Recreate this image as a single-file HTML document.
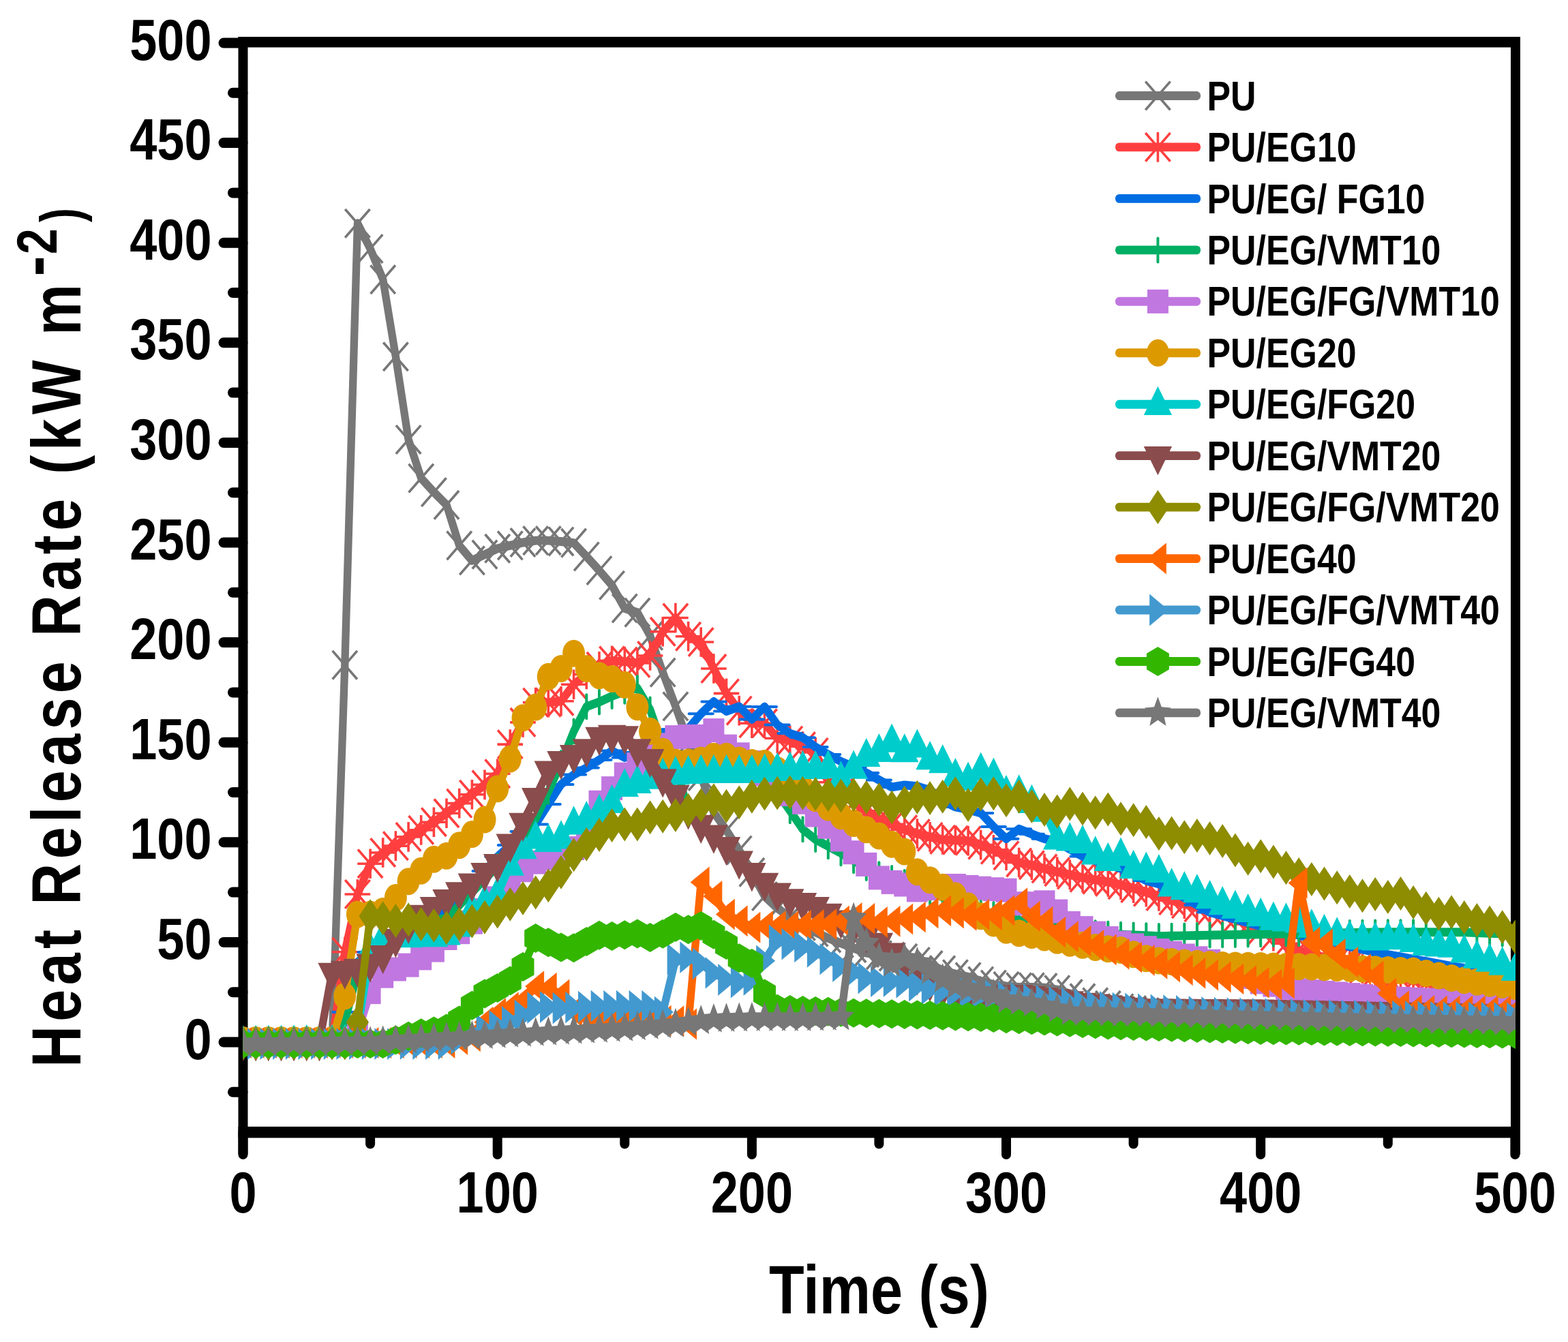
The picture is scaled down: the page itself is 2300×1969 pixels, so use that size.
<!DOCTYPE html>
<html><head><meta charset="utf-8"><title>Heat Release Rate</title>
<style>
html,body{margin:0;padding:0;background:#fff;}
svg{display:block;}
.t{font-family:"Liberation Sans",Arial,sans-serif;font-weight:bold;fill:#000;}
</style></head>
<body>
<svg xmlns="http://www.w3.org/2000/svg" width="2300" height="1969" viewBox="0 0 2300 1969">
<rect width="2300" height="1969" fill="#fff"/>
<defs><g id="mPU" stroke="#777777" stroke-width="3.6" stroke-linecap="square" fill="none"><path d="M-17,-19.5L17,19.5M-17,19.5L17,-19.5"/></g>
<g id="mEG10" stroke="#FF3F3F" stroke-width="3.6" stroke-linecap="square" fill="none"><path d="M-17,-19.5L17,19.5M-17,19.5L17,-19.5M0,-20L0,20M-17,0L17,0"/></g>
<g id="mFG10" stroke="#006DE2" stroke-width="4" stroke-linecap="round" fill="none"><path d="M-17.5,0L17.5,0"/></g>
<g id="mVMT10" stroke="#00AE64" stroke-width="4" stroke-linecap="round" fill="none"><path d="M0,-17.5L0,17.5"/></g>
<rect id="mFGVMT10" x="-15.5" y="-17.5" width="31" height="35" fill="#C077E0"/>
<ellipse id="mEG20" rx="16.5" ry="20" fill="#DD9A00"/>
<polygon id="mFG20" points="0,-26.5 20.7,15.7 -20.7,15.7" fill="#00CCCC"/>
<polygon id="mVMT20" points="-20.7,-13.7 20.7,-13.7 0,28.6" fill="#8A4C4C"/>
<polygon id="mFGVMT20" points="0,-25 16.6,0 0,25 -16.6,0" fill="#8E8C00"/>
<polygon id="mEG40" points="-15.6,0 12.4,-23 12.4,23" fill="#FF6600"/>
<polygon id="mFGVMT40" points="15.6,0 -12.3,-23.4 -12.3,23.4" fill="#4299CF"/>
<polygon id="mFG40" points="0,-21.5 16.5,-11.8 16.5,11.8 0,21.5 -16.5,11.8 -16.5,-11.8" fill="#33B600"/>
<polygon id="mVMT40" points="0.00,-23.70 5.42,-8.63 19.50,-7.32 8.77,3.30 12.05,19.17 0.00,10.66 -12.05,19.17 -8.77,3.30 -19.50,-7.32 -5.42,-8.63" fill="#777777"/><clipPath id="pc"><rect x="356.5" y="62" width="1866.5" height="1599"/></clipPath></defs>
<line x1="328" y1="1529.0" x2="356" y2="1529.0" stroke="#000" stroke-width="15" stroke-linecap="round"/>
<line x1="328" y1="1382.4" x2="356" y2="1382.4" stroke="#000" stroke-width="15" stroke-linecap="round"/>
<line x1="328" y1="1235.8" x2="356" y2="1235.8" stroke="#000" stroke-width="15" stroke-linecap="round"/>
<line x1="328" y1="1089.2" x2="356" y2="1089.2" stroke="#000" stroke-width="15" stroke-linecap="round"/>
<line x1="328" y1="942.6" x2="356" y2="942.6" stroke="#000" stroke-width="15" stroke-linecap="round"/>
<line x1="328" y1="796.0" x2="356" y2="796.0" stroke="#000" stroke-width="15" stroke-linecap="round"/>
<line x1="328" y1="649.4" x2="356" y2="649.4" stroke="#000" stroke-width="15" stroke-linecap="round"/>
<line x1="328" y1="502.8" x2="356" y2="502.8" stroke="#000" stroke-width="15" stroke-linecap="round"/>
<line x1="328" y1="356.2" x2="356" y2="356.2" stroke="#000" stroke-width="15" stroke-linecap="round"/>
<line x1="328" y1="209.6" x2="356" y2="209.6" stroke="#000" stroke-width="15" stroke-linecap="round"/>
<line x1="328" y1="63.0" x2="356" y2="63.0" stroke="#000" stroke-width="15" stroke-linecap="round"/>
<line x1="341.5" y1="1602.3" x2="356" y2="1602.3" stroke="#000" stroke-width="15" stroke-linecap="round"/>
<line x1="341.5" y1="1455.7" x2="356" y2="1455.7" stroke="#000" stroke-width="15" stroke-linecap="round"/>
<line x1="341.5" y1="1309.1" x2="356" y2="1309.1" stroke="#000" stroke-width="15" stroke-linecap="round"/>
<line x1="341.5" y1="1162.5" x2="356" y2="1162.5" stroke="#000" stroke-width="15" stroke-linecap="round"/>
<line x1="341.5" y1="1015.9" x2="356" y2="1015.9" stroke="#000" stroke-width="15" stroke-linecap="round"/>
<line x1="341.5" y1="869.3" x2="356" y2="869.3" stroke="#000" stroke-width="15" stroke-linecap="round"/>
<line x1="341.5" y1="722.7" x2="356" y2="722.7" stroke="#000" stroke-width="15" stroke-linecap="round"/>
<line x1="341.5" y1="576.1" x2="356" y2="576.1" stroke="#000" stroke-width="15" stroke-linecap="round"/>
<line x1="341.5" y1="429.5" x2="356" y2="429.5" stroke="#000" stroke-width="15" stroke-linecap="round"/>
<line x1="341.5" y1="282.9" x2="356" y2="282.9" stroke="#000" stroke-width="15" stroke-linecap="round"/>
<line x1="341.5" y1="136.3" x2="356" y2="136.3" stroke="#000" stroke-width="15" stroke-linecap="round"/>
<line x1="356.5" y1="1661" x2="356.5" y2="1694" stroke="#000" stroke-width="14" stroke-linecap="round"/>
<line x1="729.7" y1="1661" x2="729.7" y2="1694" stroke="#000" stroke-width="14" stroke-linecap="round"/>
<line x1="1102.9" y1="1661" x2="1102.9" y2="1694" stroke="#000" stroke-width="14" stroke-linecap="round"/>
<line x1="1476.0" y1="1661" x2="1476.0" y2="1694" stroke="#000" stroke-width="14" stroke-linecap="round"/>
<line x1="1849.2" y1="1661" x2="1849.2" y2="1694" stroke="#000" stroke-width="14" stroke-linecap="round"/>
<line x1="2222.4" y1="1661" x2="2222.4" y2="1694" stroke="#000" stroke-width="14" stroke-linecap="round"/>
<line x1="543.1" y1="1661" x2="543.1" y2="1678.5" stroke="#000" stroke-width="14" stroke-linecap="round"/>
<line x1="916.3" y1="1661" x2="916.3" y2="1678.5" stroke="#000" stroke-width="14" stroke-linecap="round"/>
<line x1="1289.4" y1="1661" x2="1289.4" y2="1678.5" stroke="#000" stroke-width="14" stroke-linecap="round"/>
<line x1="1662.6" y1="1661" x2="1662.6" y2="1678.5" stroke="#000" stroke-width="14" stroke-linecap="round"/>
<line x1="2035.8" y1="1661" x2="2035.8" y2="1678.5" stroke="#000" stroke-width="14" stroke-linecap="round"/>
<rect x="349.5" y="54" width="1880.5" height="15.5" fill="#000"/>
<rect x="349.5" y="1653" width="1880.5" height="16.5" fill="#000"/>
<rect x="349.5" y="54" width="14" height="1640" fill="#000"/>
<rect x="2216" y="54" width="14" height="1640" fill="#000"/>
<g clip-path="url(#pc)">
<polyline transform="scale(0.876,1)" points="407.0,1529.0 428.3,1529.0 449.6,1529.0 470.9,1529.0 492.2,1529.0 513.5,1529.0 534.8,1529.0 556.1,1529.0 577.4,975.7 598.7,327.8 620.0,365.0 641.3,410.1 662.6,523.3 683.9,645.0 705.2,701.6 726.5,722.1 747.8,740.9 769.1,800.4 790.4,822.4 811.7,813.6 833.0,804.8 854.3,800.4 875.6,796.0 896.9,793.1 918.2,793.1 939.5,794.5 960.8,796.6 982.1,816.5 1003.4,837.0 1024.7,858.7 1046.0,892.5 1067.3,898.6 1088.6,932.8 1109.9,986.6 1131.2,1036.4 1152.5,1089.2 1173.8,1139.0 1195.1,1191.8 1216.4,1218.2 1237.7,1247.5 1259.0,1279.8 1280.3,1315.0 1301.6,1332.6 1322.9,1345.8 1344.2,1358.9 1365.5,1367.7 1386.8,1376.5 1408.1,1383.9 1429.4,1391.2 1450.7,1398.0 1472.0,1401.2 1493.3,1403.6 1514.6,1405.9 1535.9,1411.0 1557.2,1416.1 1578.5,1423.4 1599.8,1429.2 1621.1,1433.4 1642.4,1439.5 1663.7,1444.6 1685.0,1446.9 1706.3,1448.4 1727.6,1448.4 1748.9,1449.1 1770.2,1452.2 1791.5,1458.1 1812.8,1464.3 1834.1,1470.4 1855.4,1474.8 1876.7,1479.2 1898.0,1482.1 1919.3,1485.0 1940.6,1488.0 1961.9,1490.2 1983.2,1492.3 2004.5,1494.5 2025.8,1496.7 2047.1,1497.5 2068.4,1498.2 2089.7,1498.9 2111.0,1499.7 2132.3,1500.0 2153.6,1500.3 2174.9,1500.6 2196.2,1500.9 2217.5,1501.1 2238.8,1501.4 2260.1,1501.7 2281.4,1502.0 2302.7,1502.3 2324.0,1502.6 2345.3,1502.9 2366.6,1503.2 2387.9,1503.5 2409.2,1503.8 2430.5,1504.1 2451.8,1504.4 2473.1,1504.7 2494.4,1505.0 2515.7,1505.3 2537.0,1505.5" fill="none" stroke="#777777" stroke-width="12.9" stroke-linejoin="round" stroke-linecap="round"/>
<use href="#mPU" x="356.5" y="1529.0"/>
<use href="#mPU" x="375.2" y="1529.0"/>
<use href="#mPU" x="393.8" y="1529.0"/>
<use href="#mPU" x="412.5" y="1529.0"/>
<use href="#mPU" x="431.1" y="1529.0"/>
<use href="#mPU" x="449.8" y="1529.0"/>
<use href="#mPU" x="468.5" y="1529.0"/>
<use href="#mPU" x="487.1" y="1529.0"/>
<use href="#mPU" x="505.8" y="975.7"/>
<use href="#mPU" x="524.4" y="327.8"/>
<use href="#mPU" x="543.1" y="365.0"/>
<use href="#mPU" x="561.7" y="410.1"/>
<use href="#mPU" x="580.4" y="523.3"/>
<use href="#mPU" x="599.1" y="645.0"/>
<use href="#mPU" x="617.7" y="701.6"/>
<use href="#mPU" x="636.4" y="722.1"/>
<use href="#mPU" x="655.0" y="740.9"/>
<use href="#mPU" x="673.7" y="800.4"/>
<use href="#mPU" x="692.4" y="822.4"/>
<use href="#mPU" x="711.0" y="813.6"/>
<use href="#mPU" x="729.7" y="804.8"/>
<use href="#mPU" x="748.3" y="800.4"/>
<use href="#mPU" x="767.0" y="796.0"/>
<use href="#mPU" x="785.7" y="793.1"/>
<use href="#mPU" x="804.3" y="793.1"/>
<use href="#mPU" x="823.0" y="794.5"/>
<use href="#mPU" x="841.6" y="796.6"/>
<use href="#mPU" x="860.3" y="816.5"/>
<use href="#mPU" x="879.0" y="837.0"/>
<use href="#mPU" x="897.6" y="858.7"/>
<use href="#mPU" x="916.3" y="892.5"/>
<use href="#mPU" x="934.9" y="898.6"/>
<use href="#mPU" x="953.6" y="932.8"/>
<use href="#mPU" x="972.2" y="986.6"/>
<use href="#mPU" x="990.9" y="1036.4"/>
<use href="#mPU" x="1009.6" y="1089.2"/>
<use href="#mPU" x="1028.2" y="1139.0"/>
<use href="#mPU" x="1046.9" y="1191.8"/>
<use href="#mPU" x="1065.5" y="1218.2"/>
<use href="#mPU" x="1084.2" y="1247.5"/>
<use href="#mPU" x="1102.9" y="1279.8"/>
<use href="#mPU" x="1121.5" y="1315.0"/>
<use href="#mPU" x="1140.2" y="1332.6"/>
<use href="#mPU" x="1158.8" y="1345.8"/>
<use href="#mPU" x="1177.5" y="1358.9"/>
<use href="#mPU" x="1196.2" y="1367.7"/>
<use href="#mPU" x="1214.8" y="1376.5"/>
<use href="#mPU" x="1233.5" y="1383.9"/>
<use href="#mPU" x="1252.1" y="1391.2"/>
<use href="#mPU" x="1270.8" y="1398.0"/>
<use href="#mPU" x="1289.4" y="1401.2"/>
<use href="#mPU" x="1308.1" y="1403.6"/>
<use href="#mPU" x="1326.8" y="1405.9"/>
<use href="#mPU" x="1345.4" y="1411.0"/>
<use href="#mPU" x="1364.1" y="1416.1"/>
<use href="#mPU" x="1382.7" y="1423.4"/>
<use href="#mPU" x="1401.4" y="1429.2"/>
<use href="#mPU" x="1420.1" y="1433.4"/>
<use href="#mPU" x="1438.7" y="1439.5"/>
<use href="#mPU" x="1457.4" y="1444.6"/>
<use href="#mPU" x="1476.0" y="1446.9"/>
<use href="#mPU" x="1494.7" y="1448.4"/>
<use href="#mPU" x="1513.4" y="1448.4"/>
<use href="#mPU" x="1532.0" y="1449.1"/>
<use href="#mPU" x="1550.7" y="1452.2"/>
<use href="#mPU" x="1569.3" y="1458.1"/>
<use href="#mPU" x="1588.0" y="1464.3"/>
<use href="#mPU" x="1606.7" y="1470.4"/>
<use href="#mPU" x="1625.3" y="1474.8"/>
<use href="#mPU" x="1644.0" y="1479.2"/>
<use href="#mPU" x="1662.6" y="1482.1"/>
<use href="#mPU" x="1681.3" y="1485.0"/>
<use href="#mPU" x="1699.9" y="1488.0"/>
<use href="#mPU" x="1718.6" y="1490.2"/>
<use href="#mPU" x="1737.3" y="1492.3"/>
<use href="#mPU" x="1755.9" y="1494.5"/>
<use href="#mPU" x="1774.6" y="1496.7"/>
<use href="#mPU" x="1793.2" y="1497.5"/>
<use href="#mPU" x="1811.9" y="1498.2"/>
<use href="#mPU" x="1830.6" y="1498.9"/>
<use href="#mPU" x="1849.2" y="1499.7"/>
<use href="#mPU" x="1867.9" y="1500.0"/>
<use href="#mPU" x="1886.5" y="1500.3"/>
<use href="#mPU" x="1905.2" y="1500.6"/>
<use href="#mPU" x="1923.9" y="1500.9"/>
<use href="#mPU" x="1942.5" y="1501.1"/>
<use href="#mPU" x="1961.2" y="1501.4"/>
<use href="#mPU" x="1979.8" y="1501.7"/>
<use href="#mPU" x="1998.5" y="1502.0"/>
<use href="#mPU" x="2017.2" y="1502.3"/>
<use href="#mPU" x="2035.8" y="1502.6"/>
<use href="#mPU" x="2054.5" y="1502.9"/>
<use href="#mPU" x="2073.1" y="1503.2"/>
<use href="#mPU" x="2091.8" y="1503.5"/>
<use href="#mPU" x="2110.4" y="1503.8"/>
<use href="#mPU" x="2129.1" y="1504.1"/>
<use href="#mPU" x="2147.8" y="1504.4"/>
<use href="#mPU" x="2166.4" y="1504.7"/>
<use href="#mPU" x="2185.1" y="1505.0"/>
<use href="#mPU" x="2203.7" y="1505.3"/>
<use href="#mPU" x="2222.4" y="1505.5"/>
<polyline transform="scale(0.876,1)" points="407.0,1529.0 428.3,1529.0 449.6,1529.0 470.9,1529.0 492.2,1529.0 513.5,1529.0 534.8,1529.0 556.1,1529.0 577.4,1396.7 598.7,1312.0 620.0,1267.2 641.3,1251.0 662.6,1241.1 683.9,1227.9 705.2,1217.9 726.5,1206.2 747.8,1193.3 769.1,1178.6 790.4,1165.7 811.7,1151.4 833.0,1135.2 854.3,1092.1 875.6,1059.9 896.9,1030.6 918.2,1030.6 939.5,1028.8 960.8,1004.2 982.1,989.5 1003.4,977.8 1024.7,969.4 1046.0,970.5 1067.3,972.9 1088.6,962.0 1109.9,926.8 1131.2,906.5 1152.5,933.8 1173.8,942.0 1195.1,981.0 1216.4,1017.4 1237.7,1042.6 1259.0,1061.3 1280.3,1061.3 1301.6,1083.3 1322.9,1086.6 1344.2,1095.1 1365.5,1103.9 1386.8,1147.8 1408.1,1162.5 1429.4,1177.2 1450.7,1189.9 1472.0,1201.6 1493.3,1209.4 1514.6,1217.1 1535.9,1223.1 1557.2,1227.9 1578.5,1231.9 1599.8,1232.7 1621.1,1233.6 1642.4,1239.6 1663.7,1246.8 1685.0,1255.2 1706.3,1265.5 1727.6,1269.3 1748.9,1274.4 1770.2,1279.1 1791.5,1283.4 1812.8,1287.6 1834.1,1290.8 1855.4,1293.9 1876.7,1298.3 1898.0,1303.2 1919.3,1308.7 1940.6,1315.0 1961.9,1321.2 1983.2,1326.3 2004.5,1331.3 2025.8,1336.1 2047.1,1340.8 2068.4,1347.8 2089.7,1356.0 2111.0,1364.8 2132.3,1373.6 2153.6,1384.4 2174.9,1394.0 2196.2,1399.5 2217.5,1405.0 2238.8,1410.4 2260.1,1415.9 2281.4,1421.3 2302.7,1426.8 2324.0,1432.2 2345.3,1435.5 2366.6,1438.7 2387.9,1441.9 2409.2,1445.1 2430.5,1448.4 2451.8,1451.6 2473.1,1454.8 2494.4,1458.0 2515.7,1461.3 2537.0,1464.5" fill="none" stroke="#FF3F3F" stroke-width="12.9" stroke-linejoin="round" stroke-linecap="round"/>
<use href="#mEG10" x="356.5" y="1529.0"/>
<use href="#mEG10" x="375.2" y="1529.0"/>
<use href="#mEG10" x="393.8" y="1529.0"/>
<use href="#mEG10" x="412.5" y="1529.0"/>
<use href="#mEG10" x="431.1" y="1529.0"/>
<use href="#mEG10" x="449.8" y="1529.0"/>
<use href="#mEG10" x="468.5" y="1529.0"/>
<use href="#mEG10" x="487.1" y="1529.0"/>
<use href="#mEG10" x="505.8" y="1396.7"/>
<use href="#mEG10" x="524.4" y="1312.0"/>
<use href="#mEG10" x="543.1" y="1267.2"/>
<use href="#mEG10" x="561.7" y="1251.0"/>
<use href="#mEG10" x="580.4" y="1241.1"/>
<use href="#mEG10" x="599.1" y="1227.9"/>
<use href="#mEG10" x="617.7" y="1217.9"/>
<use href="#mEG10" x="636.4" y="1206.2"/>
<use href="#mEG10" x="655.0" y="1193.3"/>
<use href="#mEG10" x="673.7" y="1178.6"/>
<use href="#mEG10" x="692.4" y="1165.7"/>
<use href="#mEG10" x="711.0" y="1151.4"/>
<use href="#mEG10" x="729.7" y="1135.2"/>
<use href="#mEG10" x="748.3" y="1092.1"/>
<use href="#mEG10" x="767.0" y="1059.9"/>
<use href="#mEG10" x="785.7" y="1030.6"/>
<use href="#mEG10" x="804.3" y="1030.6"/>
<use href="#mEG10" x="823.0" y="1028.8"/>
<use href="#mEG10" x="841.6" y="1004.2"/>
<use href="#mEG10" x="860.3" y="989.5"/>
<use href="#mEG10" x="879.0" y="977.8"/>
<use href="#mEG10" x="897.6" y="969.4"/>
<use href="#mEG10" x="916.3" y="970.5"/>
<use href="#mEG10" x="934.9" y="972.9"/>
<use href="#mEG10" x="953.6" y="962.0"/>
<use href="#mEG10" x="972.2" y="926.8"/>
<use href="#mEG10" x="990.9" y="906.5"/>
<use href="#mEG10" x="1009.6" y="933.8"/>
<use href="#mEG10" x="1028.2" y="942.0"/>
<use href="#mEG10" x="1046.9" y="981.0"/>
<use href="#mEG10" x="1065.5" y="1017.4"/>
<use href="#mEG10" x="1084.2" y="1042.6"/>
<use href="#mEG10" x="1102.9" y="1061.3"/>
<use href="#mEG10" x="1121.5" y="1061.3"/>
<use href="#mEG10" x="1140.2" y="1083.3"/>
<use href="#mEG10" x="1158.8" y="1086.6"/>
<use href="#mEG10" x="1177.5" y="1095.1"/>
<use href="#mEG10" x="1196.2" y="1103.9"/>
<use href="#mEG10" x="1214.8" y="1147.8"/>
<use href="#mEG10" x="1233.5" y="1162.5"/>
<use href="#mEG10" x="1252.1" y="1177.2"/>
<use href="#mEG10" x="1270.8" y="1189.9"/>
<use href="#mEG10" x="1289.4" y="1201.6"/>
<use href="#mEG10" x="1308.1" y="1209.4"/>
<use href="#mEG10" x="1326.8" y="1217.1"/>
<use href="#mEG10" x="1345.4" y="1223.1"/>
<use href="#mEG10" x="1364.1" y="1227.9"/>
<use href="#mEG10" x="1382.7" y="1231.9"/>
<use href="#mEG10" x="1401.4" y="1232.7"/>
<use href="#mEG10" x="1420.1" y="1233.6"/>
<use href="#mEG10" x="1438.7" y="1239.6"/>
<use href="#mEG10" x="1457.4" y="1246.8"/>
<use href="#mEG10" x="1476.0" y="1255.2"/>
<use href="#mEG10" x="1494.7" y="1265.5"/>
<use href="#mEG10" x="1513.4" y="1269.3"/>
<use href="#mEG10" x="1532.0" y="1274.4"/>
<use href="#mEG10" x="1550.7" y="1279.1"/>
<use href="#mEG10" x="1569.3" y="1283.4"/>
<use href="#mEG10" x="1588.0" y="1287.6"/>
<use href="#mEG10" x="1606.7" y="1290.8"/>
<use href="#mEG10" x="1625.3" y="1293.9"/>
<use href="#mEG10" x="1644.0" y="1298.3"/>
<use href="#mEG10" x="1662.6" y="1303.2"/>
<use href="#mEG10" x="1681.3" y="1308.7"/>
<use href="#mEG10" x="1699.9" y="1315.0"/>
<use href="#mEG10" x="1718.6" y="1321.2"/>
<use href="#mEG10" x="1737.3" y="1326.3"/>
<use href="#mEG10" x="1755.9" y="1331.3"/>
<use href="#mEG10" x="1774.6" y="1336.1"/>
<use href="#mEG10" x="1793.2" y="1340.8"/>
<use href="#mEG10" x="1811.9" y="1347.8"/>
<use href="#mEG10" x="1830.6" y="1356.0"/>
<use href="#mEG10" x="1849.2" y="1364.8"/>
<use href="#mEG10" x="1867.9" y="1373.6"/>
<use href="#mEG10" x="1886.5" y="1384.4"/>
<use href="#mEG10" x="1905.2" y="1394.0"/>
<use href="#mEG10" x="1923.9" y="1399.5"/>
<use href="#mEG10" x="1942.5" y="1405.0"/>
<use href="#mEG10" x="1961.2" y="1410.4"/>
<use href="#mEG10" x="1979.8" y="1415.9"/>
<use href="#mEG10" x="1998.5" y="1421.3"/>
<use href="#mEG10" x="2017.2" y="1426.8"/>
<use href="#mEG10" x="2035.8" y="1432.2"/>
<use href="#mEG10" x="2054.5" y="1435.5"/>
<use href="#mEG10" x="2073.1" y="1438.7"/>
<use href="#mEG10" x="2091.8" y="1441.9"/>
<use href="#mEG10" x="2110.4" y="1445.1"/>
<use href="#mEG10" x="2129.1" y="1448.4"/>
<use href="#mEG10" x="2147.8" y="1451.6"/>
<use href="#mEG10" x="2166.4" y="1454.8"/>
<use href="#mEG10" x="2185.1" y="1458.0"/>
<use href="#mEG10" x="2203.7" y="1461.3"/>
<use href="#mEG10" x="2222.4" y="1464.5"/>
<polyline transform="scale(0.876,1)" points="407.0,1529.0 428.3,1529.0 449.6,1529.0 470.9,1529.0 492.2,1529.0 513.5,1529.0 534.8,1529.0 556.1,1529.0 577.4,1485.0 598.7,1411.7 620.0,1397.1 641.3,1382.4 662.6,1367.7 683.9,1357.5 705.2,1347.2 726.5,1342.8 747.8,1338.4 769.1,1317.9 790.4,1300.3 811.7,1278.1 833.0,1257.0 854.3,1240.0 875.6,1220.1 896.9,1209.6 918.2,1180.0 939.5,1150.9 960.8,1136.6 982.1,1126.5 1003.4,1115.0 1024.7,1101.5 1046.0,1111.5 1067.3,1103.9 1088.6,1089.2 1109.9,1074.5 1131.2,1074.5 1152.5,1068.9 1173.8,1047.2 1195.1,1029.4 1216.4,1043.5 1237.7,1036.7 1259.0,1055.5 1280.3,1036.9 1301.6,1063.5 1322.9,1076.1 1344.2,1082.2 1365.5,1096.0 1386.8,1107.0 1408.1,1117.3 1429.4,1125.4 1450.7,1134.0 1472.0,1144.4 1493.3,1154.9 1514.6,1151.9 1535.9,1153.7 1557.2,1159.6 1578.5,1174.8 1599.8,1184.0 1621.1,1187.7 1642.4,1192.9 1663.7,1212.9 1685.0,1230.7 1706.3,1216.3 1727.6,1223.7 1748.9,1230.7 1770.2,1234.7 1791.5,1246.0 1812.8,1256.5 1834.1,1262.4 1855.4,1268.4 1876.7,1274.3 1898.0,1283.1 1919.3,1291.9 1940.6,1297.0 1961.9,1306.7 1983.2,1317.3 2004.5,1327.9 2025.8,1338.4 2047.1,1343.6 2068.4,1348.7 2089.7,1353.8 2111.0,1358.9 2132.3,1363.3 2153.6,1367.7 2174.9,1372.1 2196.2,1376.5 2217.5,1380.6 2238.8,1384.7 2260.1,1388.9 2281.4,1393.0 2302.7,1397.1 2324.0,1400.5 2345.3,1403.9 2366.6,1407.3 2387.9,1410.7 2409.2,1414.2 2430.5,1417.6 2451.8,1420.5 2473.1,1423.4 2494.4,1426.4 2515.7,1429.3 2537.0,1432.2" fill="none" stroke="#006DE2" stroke-width="12.9" stroke-linejoin="round" stroke-linecap="round"/>
<use href="#mFG10" x="356.5" y="1529.0"/>
<use href="#mFG10" x="375.2" y="1529.0"/>
<use href="#mFG10" x="393.8" y="1529.0"/>
<use href="#mFG10" x="412.5" y="1529.0"/>
<use href="#mFG10" x="431.1" y="1529.0"/>
<use href="#mFG10" x="449.8" y="1529.0"/>
<use href="#mFG10" x="468.5" y="1529.0"/>
<use href="#mFG10" x="487.1" y="1529.0"/>
<use href="#mFG10" x="505.8" y="1485.0"/>
<use href="#mFG10" x="524.4" y="1411.7"/>
<use href="#mFG10" x="543.1" y="1397.1"/>
<use href="#mFG10" x="561.7" y="1382.4"/>
<use href="#mFG10" x="580.4" y="1367.7"/>
<use href="#mFG10" x="599.1" y="1357.5"/>
<use href="#mFG10" x="617.7" y="1347.2"/>
<use href="#mFG10" x="636.4" y="1342.8"/>
<use href="#mFG10" x="655.0" y="1338.4"/>
<use href="#mFG10" x="673.7" y="1317.9"/>
<use href="#mFG10" x="692.4" y="1300.3"/>
<use href="#mFG10" x="711.0" y="1278.1"/>
<use href="#mFG10" x="729.7" y="1257.0"/>
<use href="#mFG10" x="748.3" y="1240.0"/>
<use href="#mFG10" x="767.0" y="1220.1"/>
<use href="#mFG10" x="785.7" y="1209.6"/>
<use href="#mFG10" x="804.3" y="1180.0"/>
<use href="#mFG10" x="823.0" y="1150.9"/>
<use href="#mFG10" x="841.6" y="1136.6"/>
<use href="#mFG10" x="860.3" y="1126.5"/>
<use href="#mFG10" x="879.0" y="1115.0"/>
<use href="#mFG10" x="897.6" y="1101.5"/>
<use href="#mFG10" x="916.3" y="1111.5"/>
<use href="#mFG10" x="934.9" y="1103.9"/>
<use href="#mFG10" x="953.6" y="1089.2"/>
<use href="#mFG10" x="972.2" y="1074.5"/>
<use href="#mFG10" x="990.9" y="1074.5"/>
<use href="#mFG10" x="1009.6" y="1068.9"/>
<use href="#mFG10" x="1028.2" y="1047.2"/>
<use href="#mFG10" x="1046.9" y="1029.4"/>
<use href="#mFG10" x="1065.5" y="1043.5"/>
<use href="#mFG10" x="1084.2" y="1036.7"/>
<use href="#mFG10" x="1102.9" y="1055.5"/>
<use href="#mFG10" x="1121.5" y="1036.9"/>
<use href="#mFG10" x="1140.2" y="1063.5"/>
<use href="#mFG10" x="1158.8" y="1076.1"/>
<use href="#mFG10" x="1177.5" y="1082.2"/>
<use href="#mFG10" x="1196.2" y="1096.0"/>
<use href="#mFG10" x="1214.8" y="1107.0"/>
<use href="#mFG10" x="1233.5" y="1117.3"/>
<use href="#mFG10" x="1252.1" y="1125.4"/>
<use href="#mFG10" x="1270.8" y="1134.0"/>
<use href="#mFG10" x="1289.4" y="1144.4"/>
<use href="#mFG10" x="1308.1" y="1154.9"/>
<use href="#mFG10" x="1326.8" y="1151.9"/>
<use href="#mFG10" x="1345.4" y="1153.7"/>
<use href="#mFG10" x="1364.1" y="1159.6"/>
<use href="#mFG10" x="1382.7" y="1174.8"/>
<use href="#mFG10" x="1401.4" y="1184.0"/>
<use href="#mFG10" x="1420.1" y="1187.7"/>
<use href="#mFG10" x="1438.7" y="1192.9"/>
<use href="#mFG10" x="1457.4" y="1212.9"/>
<use href="#mFG10" x="1476.0" y="1230.7"/>
<use href="#mFG10" x="1494.7" y="1216.3"/>
<use href="#mFG10" x="1513.4" y="1223.7"/>
<use href="#mFG10" x="1532.0" y="1230.7"/>
<use href="#mFG10" x="1550.7" y="1234.7"/>
<use href="#mFG10" x="1569.3" y="1246.0"/>
<use href="#mFG10" x="1588.0" y="1256.5"/>
<use href="#mFG10" x="1606.7" y="1262.4"/>
<use href="#mFG10" x="1625.3" y="1268.4"/>
<use href="#mFG10" x="1644.0" y="1274.3"/>
<use href="#mFG10" x="1662.6" y="1283.1"/>
<use href="#mFG10" x="1681.3" y="1291.9"/>
<use href="#mFG10" x="1699.9" y="1297.0"/>
<use href="#mFG10" x="1718.6" y="1306.7"/>
<use href="#mFG10" x="1737.3" y="1317.3"/>
<use href="#mFG10" x="1755.9" y="1327.9"/>
<use href="#mFG10" x="1774.6" y="1338.4"/>
<use href="#mFG10" x="1793.2" y="1343.6"/>
<use href="#mFG10" x="1811.9" y="1348.7"/>
<use href="#mFG10" x="1830.6" y="1353.8"/>
<use href="#mFG10" x="1849.2" y="1358.9"/>
<use href="#mFG10" x="1867.9" y="1363.3"/>
<use href="#mFG10" x="1886.5" y="1367.7"/>
<use href="#mFG10" x="1905.2" y="1372.1"/>
<use href="#mFG10" x="1923.9" y="1376.5"/>
<use href="#mFG10" x="1942.5" y="1380.6"/>
<use href="#mFG10" x="1961.2" y="1384.7"/>
<use href="#mFG10" x="1979.8" y="1388.9"/>
<use href="#mFG10" x="1998.5" y="1393.0"/>
<use href="#mFG10" x="2017.2" y="1397.1"/>
<use href="#mFG10" x="2035.8" y="1400.5"/>
<use href="#mFG10" x="2054.5" y="1403.9"/>
<use href="#mFG10" x="2073.1" y="1407.3"/>
<use href="#mFG10" x="2091.8" y="1410.7"/>
<use href="#mFG10" x="2110.4" y="1414.2"/>
<use href="#mFG10" x="2129.1" y="1417.6"/>
<use href="#mFG10" x="2147.8" y="1420.5"/>
<use href="#mFG10" x="2166.4" y="1423.4"/>
<use href="#mFG10" x="2185.1" y="1426.4"/>
<use href="#mFG10" x="2203.7" y="1429.3"/>
<use href="#mFG10" x="2222.4" y="1432.2"/>
<polyline transform="scale(0.876,1)" points="407.0,1529.0 428.3,1529.0 449.6,1529.0 470.9,1529.0 492.2,1529.0 513.5,1529.0 534.8,1529.0 556.1,1529.0 577.4,1499.7 598.7,1426.4 620.0,1397.1 641.3,1386.8 662.6,1376.5 683.9,1364.8 705.2,1353.1 726.5,1350.1 747.8,1347.2 769.1,1328.2 790.4,1309.1 811.7,1290.0 833.0,1271.0 854.3,1250.5 875.6,1229.9 896.9,1201.2 918.2,1161.5 939.5,1119.6 960.8,1072.9 982.1,1036.8 1003.4,1029.9 1024.7,1021.5 1046.0,1014.3 1067.3,1009.5 1088.6,1041.1 1109.9,1095.1 1131.2,1124.4 1152.5,1188.6 1173.8,1181.6 1195.1,1174.2 1216.4,1182.7 1237.7,1177.2 1259.0,1168.7 1280.3,1164.6 1301.6,1163.4 1322.9,1189.8 1344.2,1216.8 1365.5,1231.6 1386.8,1241.7 1408.1,1251.7 1429.4,1262.8 1450.7,1273.6 1472.0,1282.7 1493.3,1288.6 1514.6,1294.4 1535.9,1301.8 1557.2,1309.1 1578.5,1316.4 1599.8,1323.8 1621.1,1329.6 1642.4,1335.5 1663.7,1341.4 1685.0,1347.2 1706.3,1350.1 1727.6,1353.1 1748.9,1356.0 1770.2,1358.9 1791.5,1362.6 1812.8,1366.3 1834.1,1368.7 1855.4,1370.2 1876.7,1371.2 1898.0,1372.0 1919.3,1372.8 1940.6,1373.6 1961.9,1373.2 1983.2,1372.9 2004.5,1372.5 2025.8,1372.1 2047.1,1371.8 2068.4,1371.4 2089.7,1371.0 2111.0,1370.7 2132.3,1370.4 2153.6,1370.1 2174.9,1369.8 2196.2,1369.5 2217.5,1369.2 2238.8,1368.9 2260.1,1368.6 2281.4,1368.3 2302.7,1368.0 2324.0,1367.7 2345.3,1367.7 2366.6,1367.7 2387.9,1367.7 2409.2,1367.7 2430.5,1367.7 2451.8,1367.7 2473.1,1368.5 2494.4,1369.2 2515.7,1369.9 2537.0,1370.7" fill="none" stroke="#00AE64" stroke-width="12.9" stroke-linejoin="round" stroke-linecap="round"/>
<use href="#mVMT10" x="356.5" y="1529.0"/>
<use href="#mVMT10" x="375.2" y="1529.0"/>
<use href="#mVMT10" x="393.8" y="1529.0"/>
<use href="#mVMT10" x="412.5" y="1529.0"/>
<use href="#mVMT10" x="431.1" y="1529.0"/>
<use href="#mVMT10" x="449.8" y="1529.0"/>
<use href="#mVMT10" x="468.5" y="1529.0"/>
<use href="#mVMT10" x="487.1" y="1529.0"/>
<use href="#mVMT10" x="505.8" y="1499.7"/>
<use href="#mVMT10" x="524.4" y="1426.4"/>
<use href="#mVMT10" x="543.1" y="1397.1"/>
<use href="#mVMT10" x="561.7" y="1386.8"/>
<use href="#mVMT10" x="580.4" y="1376.5"/>
<use href="#mVMT10" x="599.1" y="1364.8"/>
<use href="#mVMT10" x="617.7" y="1353.1"/>
<use href="#mVMT10" x="636.4" y="1350.1"/>
<use href="#mVMT10" x="655.0" y="1347.2"/>
<use href="#mVMT10" x="673.7" y="1328.2"/>
<use href="#mVMT10" x="692.4" y="1309.1"/>
<use href="#mVMT10" x="711.0" y="1290.0"/>
<use href="#mVMT10" x="729.7" y="1271.0"/>
<use href="#mVMT10" x="748.3" y="1250.5"/>
<use href="#mVMT10" x="767.0" y="1229.9"/>
<use href="#mVMT10" x="785.7" y="1201.2"/>
<use href="#mVMT10" x="804.3" y="1161.5"/>
<use href="#mVMT10" x="823.0" y="1119.6"/>
<use href="#mVMT10" x="841.6" y="1072.9"/>
<use href="#mVMT10" x="860.3" y="1036.8"/>
<use href="#mVMT10" x="879.0" y="1029.9"/>
<use href="#mVMT10" x="897.6" y="1021.5"/>
<use href="#mVMT10" x="916.3" y="1014.3"/>
<use href="#mVMT10" x="934.9" y="1009.5"/>
<use href="#mVMT10" x="953.6" y="1041.1"/>
<use href="#mVMT10" x="972.2" y="1095.1"/>
<use href="#mVMT10" x="990.9" y="1124.4"/>
<use href="#mVMT10" x="1009.6" y="1188.6"/>
<use href="#mVMT10" x="1028.2" y="1181.6"/>
<use href="#mVMT10" x="1046.9" y="1174.2"/>
<use href="#mVMT10" x="1065.5" y="1182.7"/>
<use href="#mVMT10" x="1084.2" y="1177.2"/>
<use href="#mVMT10" x="1102.9" y="1168.7"/>
<use href="#mVMT10" x="1121.5" y="1164.6"/>
<use href="#mVMT10" x="1140.2" y="1163.4"/>
<use href="#mVMT10" x="1158.8" y="1189.8"/>
<use href="#mVMT10" x="1177.5" y="1216.8"/>
<use href="#mVMT10" x="1196.2" y="1231.6"/>
<use href="#mVMT10" x="1214.8" y="1241.7"/>
<use href="#mVMT10" x="1233.5" y="1251.7"/>
<use href="#mVMT10" x="1252.1" y="1262.8"/>
<use href="#mVMT10" x="1270.8" y="1273.6"/>
<use href="#mVMT10" x="1289.4" y="1282.7"/>
<use href="#mVMT10" x="1308.1" y="1288.6"/>
<use href="#mVMT10" x="1326.8" y="1294.4"/>
<use href="#mVMT10" x="1345.4" y="1301.8"/>
<use href="#mVMT10" x="1364.1" y="1309.1"/>
<use href="#mVMT10" x="1382.7" y="1316.4"/>
<use href="#mVMT10" x="1401.4" y="1323.8"/>
<use href="#mVMT10" x="1420.1" y="1329.6"/>
<use href="#mVMT10" x="1438.7" y="1335.5"/>
<use href="#mVMT10" x="1457.4" y="1341.4"/>
<use href="#mVMT10" x="1476.0" y="1347.2"/>
<use href="#mVMT10" x="1494.7" y="1350.1"/>
<use href="#mVMT10" x="1513.4" y="1353.1"/>
<use href="#mVMT10" x="1532.0" y="1356.0"/>
<use href="#mVMT10" x="1550.7" y="1358.9"/>
<use href="#mVMT10" x="1569.3" y="1362.6"/>
<use href="#mVMT10" x="1588.0" y="1366.3"/>
<use href="#mVMT10" x="1606.7" y="1368.7"/>
<use href="#mVMT10" x="1625.3" y="1370.2"/>
<use href="#mVMT10" x="1644.0" y="1371.2"/>
<use href="#mVMT10" x="1662.6" y="1372.0"/>
<use href="#mVMT10" x="1681.3" y="1372.8"/>
<use href="#mVMT10" x="1699.9" y="1373.6"/>
<use href="#mVMT10" x="1718.6" y="1373.2"/>
<use href="#mVMT10" x="1737.3" y="1372.9"/>
<use href="#mVMT10" x="1755.9" y="1372.5"/>
<use href="#mVMT10" x="1774.6" y="1372.1"/>
<use href="#mVMT10" x="1793.2" y="1371.8"/>
<use href="#mVMT10" x="1811.9" y="1371.4"/>
<use href="#mVMT10" x="1830.6" y="1371.0"/>
<use href="#mVMT10" x="1849.2" y="1370.7"/>
<use href="#mVMT10" x="1867.9" y="1370.4"/>
<use href="#mVMT10" x="1886.5" y="1370.1"/>
<use href="#mVMT10" x="1905.2" y="1369.8"/>
<use href="#mVMT10" x="1923.9" y="1369.5"/>
<use href="#mVMT10" x="1942.5" y="1369.2"/>
<use href="#mVMT10" x="1961.2" y="1368.9"/>
<use href="#mVMT10" x="1979.8" y="1368.6"/>
<use href="#mVMT10" x="1998.5" y="1368.3"/>
<use href="#mVMT10" x="2017.2" y="1368.0"/>
<use href="#mVMT10" x="2035.8" y="1367.7"/>
<use href="#mVMT10" x="2054.5" y="1367.7"/>
<use href="#mVMT10" x="2073.1" y="1367.7"/>
<use href="#mVMT10" x="2091.8" y="1367.7"/>
<use href="#mVMT10" x="2110.4" y="1367.7"/>
<use href="#mVMT10" x="2129.1" y="1367.7"/>
<use href="#mVMT10" x="2147.8" y="1367.7"/>
<use href="#mVMT10" x="2166.4" y="1368.5"/>
<use href="#mVMT10" x="2185.1" y="1369.2"/>
<use href="#mVMT10" x="2203.7" y="1369.9"/>
<use href="#mVMT10" x="2222.4" y="1370.7"/>
<polyline transform="scale(0.876,1)" points="407.0,1529.0 428.3,1529.0 449.6,1529.0 470.9,1529.0 492.2,1529.0 513.5,1529.0 534.8,1529.0 556.1,1529.0 577.4,1529.0 598.7,1514.3 620.0,1455.7 641.3,1432.2 662.6,1422.0 683.9,1416.1 705.2,1405.9 726.5,1394.1 747.8,1376.5 769.1,1367.7 790.4,1353.1 811.7,1335.5 833.0,1317.9 854.3,1294.4 875.6,1276.8 896.9,1265.1 918.2,1259.3 939.5,1251.9 960.8,1244.5 982.1,1219.6 1003.4,1177.2 1024.7,1156.6 1046.0,1136.1 1067.3,1121.5 1088.6,1106.8 1109.9,1092.8 1131.2,1081.6 1152.5,1080.4 1173.8,1080.4 1195.1,1071.6 1216.4,1095.1 1237.7,1106.8 1259.0,1118.5 1280.3,1136.1 1301.6,1153.7 1322.9,1165.4 1344.2,1177.2 1365.5,1196.0 1386.8,1213.2 1408.1,1232.0 1429.4,1250.7 1450.7,1268.4 1472.0,1287.9 1493.3,1294.4 1514.6,1298.0 1535.9,1305.9 1557.2,1303.5 1578.5,1301.1 1599.8,1299.5 1621.1,1301.4 1642.4,1303.2 1663.7,1304.7 1685.0,1306.2 1706.3,1325.7 1727.6,1325.7 1748.9,1323.8 1770.2,1337.0 1791.5,1354.4 1812.8,1361.6 1834.1,1369.1 1855.4,1376.5 1876.7,1383.2 1898.0,1386.9 1919.3,1390.7 1940.6,1394.5 1961.9,1398.2 1983.2,1402.0 2004.5,1405.8 2025.8,1410.3 2047.1,1418.0 2068.4,1425.7 2089.7,1433.4 2111.0,1441.0 2132.3,1445.2 2153.6,1449.4 2174.9,1453.1 2196.2,1454.7 2217.5,1456.4 2238.8,1458.0 2260.1,1459.6 2281.4,1461.2 2302.7,1462.9 2324.0,1464.5 2345.3,1465.4 2366.6,1466.3 2387.9,1467.1 2409.2,1468.0 2430.5,1468.9 2451.8,1469.8 2473.1,1470.7 2494.4,1471.5 2515.7,1472.4 2537.0,1473.3" fill="none" stroke="#C077E0" stroke-width="12.9" stroke-linejoin="round" stroke-linecap="round"/>
<use href="#mFGVMT10" x="356.5" y="1529.0"/>
<use href="#mFGVMT10" x="375.2" y="1529.0"/>
<use href="#mFGVMT10" x="393.8" y="1529.0"/>
<use href="#mFGVMT10" x="412.5" y="1529.0"/>
<use href="#mFGVMT10" x="431.1" y="1529.0"/>
<use href="#mFGVMT10" x="449.8" y="1529.0"/>
<use href="#mFGVMT10" x="468.5" y="1529.0"/>
<use href="#mFGVMT10" x="487.1" y="1529.0"/>
<use href="#mFGVMT10" x="505.8" y="1529.0"/>
<use href="#mFGVMT10" x="524.4" y="1514.3"/>
<use href="#mFGVMT10" x="543.1" y="1455.7"/>
<use href="#mFGVMT10" x="561.7" y="1432.2"/>
<use href="#mFGVMT10" x="580.4" y="1422.0"/>
<use href="#mFGVMT10" x="599.1" y="1416.1"/>
<use href="#mFGVMT10" x="617.7" y="1405.9"/>
<use href="#mFGVMT10" x="636.4" y="1394.1"/>
<use href="#mFGVMT10" x="655.0" y="1376.5"/>
<use href="#mFGVMT10" x="673.7" y="1367.7"/>
<use href="#mFGVMT10" x="692.4" y="1353.1"/>
<use href="#mFGVMT10" x="711.0" y="1335.5"/>
<use href="#mFGVMT10" x="729.7" y="1317.9"/>
<use href="#mFGVMT10" x="748.3" y="1294.4"/>
<use href="#mFGVMT10" x="767.0" y="1276.8"/>
<use href="#mFGVMT10" x="785.7" y="1265.1"/>
<use href="#mFGVMT10" x="804.3" y="1259.3"/>
<use href="#mFGVMT10" x="823.0" y="1251.9"/>
<use href="#mFGVMT10" x="841.6" y="1244.5"/>
<use href="#mFGVMT10" x="860.3" y="1219.6"/>
<use href="#mFGVMT10" x="879.0" y="1177.2"/>
<use href="#mFGVMT10" x="897.6" y="1156.6"/>
<use href="#mFGVMT10" x="916.3" y="1136.1"/>
<use href="#mFGVMT10" x="934.9" y="1121.5"/>
<use href="#mFGVMT10" x="953.6" y="1106.8"/>
<use href="#mFGVMT10" x="972.2" y="1092.8"/>
<use href="#mFGVMT10" x="990.9" y="1081.6"/>
<use href="#mFGVMT10" x="1009.6" y="1080.4"/>
<use href="#mFGVMT10" x="1028.2" y="1080.4"/>
<use href="#mFGVMT10" x="1046.9" y="1071.6"/>
<use href="#mFGVMT10" x="1065.5" y="1095.1"/>
<use href="#mFGVMT10" x="1084.2" y="1106.8"/>
<use href="#mFGVMT10" x="1102.9" y="1118.5"/>
<use href="#mFGVMT10" x="1121.5" y="1136.1"/>
<use href="#mFGVMT10" x="1140.2" y="1153.7"/>
<use href="#mFGVMT10" x="1158.8" y="1165.4"/>
<use href="#mFGVMT10" x="1177.5" y="1177.2"/>
<use href="#mFGVMT10" x="1196.2" y="1196.0"/>
<use href="#mFGVMT10" x="1214.8" y="1213.2"/>
<use href="#mFGVMT10" x="1233.5" y="1232.0"/>
<use href="#mFGVMT10" x="1252.1" y="1250.7"/>
<use href="#mFGVMT10" x="1270.8" y="1268.4"/>
<use href="#mFGVMT10" x="1289.4" y="1287.9"/>
<use href="#mFGVMT10" x="1308.1" y="1294.4"/>
<use href="#mFGVMT10" x="1326.8" y="1298.0"/>
<use href="#mFGVMT10" x="1345.4" y="1305.9"/>
<use href="#mFGVMT10" x="1364.1" y="1303.5"/>
<use href="#mFGVMT10" x="1382.7" y="1301.1"/>
<use href="#mFGVMT10" x="1401.4" y="1299.5"/>
<use href="#mFGVMT10" x="1420.1" y="1301.4"/>
<use href="#mFGVMT10" x="1438.7" y="1303.2"/>
<use href="#mFGVMT10" x="1457.4" y="1304.7"/>
<use href="#mFGVMT10" x="1476.0" y="1306.2"/>
<use href="#mFGVMT10" x="1494.7" y="1325.7"/>
<use href="#mFGVMT10" x="1513.4" y="1325.7"/>
<use href="#mFGVMT10" x="1532.0" y="1323.8"/>
<use href="#mFGVMT10" x="1550.7" y="1337.0"/>
<use href="#mFGVMT10" x="1569.3" y="1354.4"/>
<use href="#mFGVMT10" x="1588.0" y="1361.6"/>
<use href="#mFGVMT10" x="1606.7" y="1369.1"/>
<use href="#mFGVMT10" x="1625.3" y="1376.5"/>
<use href="#mFGVMT10" x="1644.0" y="1383.2"/>
<use href="#mFGVMT10" x="1662.6" y="1386.9"/>
<use href="#mFGVMT10" x="1681.3" y="1390.7"/>
<use href="#mFGVMT10" x="1699.9" y="1394.5"/>
<use href="#mFGVMT10" x="1718.6" y="1398.2"/>
<use href="#mFGVMT10" x="1737.3" y="1402.0"/>
<use href="#mFGVMT10" x="1755.9" y="1405.8"/>
<use href="#mFGVMT10" x="1774.6" y="1410.3"/>
<use href="#mFGVMT10" x="1793.2" y="1418.0"/>
<use href="#mFGVMT10" x="1811.9" y="1425.7"/>
<use href="#mFGVMT10" x="1830.6" y="1433.4"/>
<use href="#mFGVMT10" x="1849.2" y="1441.0"/>
<use href="#mFGVMT10" x="1867.9" y="1445.2"/>
<use href="#mFGVMT10" x="1886.5" y="1449.4"/>
<use href="#mFGVMT10" x="1905.2" y="1453.1"/>
<use href="#mFGVMT10" x="1923.9" y="1454.7"/>
<use href="#mFGVMT10" x="1942.5" y="1456.4"/>
<use href="#mFGVMT10" x="1961.2" y="1458.0"/>
<use href="#mFGVMT10" x="1979.8" y="1459.6"/>
<use href="#mFGVMT10" x="1998.5" y="1461.2"/>
<use href="#mFGVMT10" x="2017.2" y="1462.9"/>
<use href="#mFGVMT10" x="2035.8" y="1464.5"/>
<use href="#mFGVMT10" x="2054.5" y="1465.4"/>
<use href="#mFGVMT10" x="2073.1" y="1466.3"/>
<use href="#mFGVMT10" x="2091.8" y="1467.1"/>
<use href="#mFGVMT10" x="2110.4" y="1468.0"/>
<use href="#mFGVMT10" x="2129.1" y="1468.9"/>
<use href="#mFGVMT10" x="2147.8" y="1469.8"/>
<use href="#mFGVMT10" x="2166.4" y="1470.7"/>
<use href="#mFGVMT10" x="2185.1" y="1471.5"/>
<use href="#mFGVMT10" x="2203.7" y="1472.4"/>
<use href="#mFGVMT10" x="2222.4" y="1473.3"/>
<polyline transform="scale(0.876,1)" points="407.0,1526.1 428.3,1526.1 449.6,1526.1 470.9,1526.1 492.2,1526.1 513.5,1526.1 534.8,1526.1 556.1,1526.1 577.4,1461.6 598.7,1341.4 620.0,1341.4 641.3,1337.0 662.6,1317.1 683.9,1293.2 705.2,1277.7 726.5,1260.7 747.8,1255.7 769.1,1240.2 790.4,1224.1 811.7,1202.5 833.0,1157.2 854.3,1113.5 875.6,1053.2 896.9,1037.6 918.2,992.8 939.5,980.9 960.8,958.7 982.1,980.9 1003.4,991.2 1024.7,996.1 1046.0,1004.8 1067.3,1037.3 1088.6,1072.8 1109.9,1102.6 1131.2,1118.5 1152.5,1118.5 1173.8,1115.6 1195.1,1109.7 1216.4,1109.7 1237.7,1115.4 1259.0,1119.0 1280.3,1120.1 1301.6,1129.9 1322.9,1142.0 1344.2,1156.6 1365.5,1171.3 1386.8,1184.5 1408.1,1197.2 1429.4,1208.0 1450.7,1217.3 1472.0,1226.6 1493.3,1238.7 1514.6,1249.5 1535.9,1279.2 1557.2,1291.2 1578.5,1301.8 1599.8,1314.2 1621.1,1329.3 1642.4,1344.3 1663.7,1354.5 1685.0,1364.8 1706.3,1369.2 1727.6,1372.0 1748.9,1375.4 1770.2,1379.8 1791.5,1383.7 1812.8,1386.8 1834.1,1389.9 1855.4,1392.3 1876.7,1394.1 1898.0,1400.2 1919.3,1406.3 1940.6,1409.6 1961.9,1411.0 1983.2,1412.4 2004.5,1413.7 2025.8,1415.1 2047.1,1416.0 2068.4,1416.4 2089.7,1416.8 2111.0,1417.1 2132.3,1417.5 2153.6,1417.9 2174.9,1418.3 2196.2,1418.6 2217.5,1419.3 2238.8,1420.1 2260.1,1420.8 2281.4,1421.6 2302.7,1422.3 2324.0,1423.1 2345.3,1423.9 2366.6,1424.6 2387.9,1428.0 2409.2,1431.5 2430.5,1434.9 2451.8,1438.3 2473.1,1440.7 2494.4,1442.7 2515.7,1444.8 2537.0,1446.9" fill="none" stroke="#DD9A00" stroke-width="12.9" stroke-linejoin="round" stroke-linecap="round"/>
<use href="#mEG20" x="356.5" y="1526.1"/>
<use href="#mEG20" x="375.2" y="1526.1"/>
<use href="#mEG20" x="393.8" y="1526.1"/>
<use href="#mEG20" x="412.5" y="1526.1"/>
<use href="#mEG20" x="431.1" y="1526.1"/>
<use href="#mEG20" x="449.8" y="1526.1"/>
<use href="#mEG20" x="468.5" y="1526.1"/>
<use href="#mEG20" x="487.1" y="1526.1"/>
<use href="#mEG20" x="505.8" y="1461.6"/>
<use href="#mEG20" x="524.4" y="1341.4"/>
<use href="#mEG20" x="543.1" y="1341.4"/>
<use href="#mEG20" x="561.7" y="1337.0"/>
<use href="#mEG20" x="580.4" y="1317.1"/>
<use href="#mEG20" x="599.1" y="1293.2"/>
<use href="#mEG20" x="617.7" y="1277.7"/>
<use href="#mEG20" x="636.4" y="1260.7"/>
<use href="#mEG20" x="655.0" y="1255.7"/>
<use href="#mEG20" x="673.7" y="1240.2"/>
<use href="#mEG20" x="692.4" y="1224.1"/>
<use href="#mEG20" x="711.0" y="1202.5"/>
<use href="#mEG20" x="729.7" y="1157.2"/>
<use href="#mEG20" x="748.3" y="1113.5"/>
<use href="#mEG20" x="767.0" y="1053.2"/>
<use href="#mEG20" x="785.7" y="1037.6"/>
<use href="#mEG20" x="804.3" y="992.8"/>
<use href="#mEG20" x="823.0" y="980.9"/>
<use href="#mEG20" x="841.6" y="958.7"/>
<use href="#mEG20" x="860.3" y="980.9"/>
<use href="#mEG20" x="879.0" y="991.2"/>
<use href="#mEG20" x="897.6" y="996.1"/>
<use href="#mEG20" x="916.3" y="1004.8"/>
<use href="#mEG20" x="934.9" y="1037.3"/>
<use href="#mEG20" x="953.6" y="1072.8"/>
<use href="#mEG20" x="972.2" y="1102.6"/>
<use href="#mEG20" x="990.9" y="1118.5"/>
<use href="#mEG20" x="1009.6" y="1118.5"/>
<use href="#mEG20" x="1028.2" y="1115.6"/>
<use href="#mEG20" x="1046.9" y="1109.7"/>
<use href="#mEG20" x="1065.5" y="1109.7"/>
<use href="#mEG20" x="1084.2" y="1115.4"/>
<use href="#mEG20" x="1102.9" y="1119.0"/>
<use href="#mEG20" x="1121.5" y="1120.1"/>
<use href="#mEG20" x="1140.2" y="1129.9"/>
<use href="#mEG20" x="1158.8" y="1142.0"/>
<use href="#mEG20" x="1177.5" y="1156.6"/>
<use href="#mEG20" x="1196.2" y="1171.3"/>
<use href="#mEG20" x="1214.8" y="1184.5"/>
<use href="#mEG20" x="1233.5" y="1197.2"/>
<use href="#mEG20" x="1252.1" y="1208.0"/>
<use href="#mEG20" x="1270.8" y="1217.3"/>
<use href="#mEG20" x="1289.4" y="1226.6"/>
<use href="#mEG20" x="1308.1" y="1238.7"/>
<use href="#mEG20" x="1326.8" y="1249.5"/>
<use href="#mEG20" x="1345.4" y="1279.2"/>
<use href="#mEG20" x="1364.1" y="1291.2"/>
<use href="#mEG20" x="1382.7" y="1301.8"/>
<use href="#mEG20" x="1401.4" y="1314.2"/>
<use href="#mEG20" x="1420.1" y="1329.3"/>
<use href="#mEG20" x="1438.7" y="1344.3"/>
<use href="#mEG20" x="1457.4" y="1354.5"/>
<use href="#mEG20" x="1476.0" y="1364.8"/>
<use href="#mEG20" x="1494.7" y="1369.2"/>
<use href="#mEG20" x="1513.4" y="1372.0"/>
<use href="#mEG20" x="1532.0" y="1375.4"/>
<use href="#mEG20" x="1550.7" y="1379.8"/>
<use href="#mEG20" x="1569.3" y="1383.7"/>
<use href="#mEG20" x="1588.0" y="1386.8"/>
<use href="#mEG20" x="1606.7" y="1389.9"/>
<use href="#mEG20" x="1625.3" y="1392.3"/>
<use href="#mEG20" x="1644.0" y="1394.1"/>
<use href="#mEG20" x="1662.6" y="1400.2"/>
<use href="#mEG20" x="1681.3" y="1406.3"/>
<use href="#mEG20" x="1699.9" y="1409.6"/>
<use href="#mEG20" x="1718.6" y="1411.0"/>
<use href="#mEG20" x="1737.3" y="1412.4"/>
<use href="#mEG20" x="1755.9" y="1413.7"/>
<use href="#mEG20" x="1774.6" y="1415.1"/>
<use href="#mEG20" x="1793.2" y="1416.0"/>
<use href="#mEG20" x="1811.9" y="1416.4"/>
<use href="#mEG20" x="1830.6" y="1416.8"/>
<use href="#mEG20" x="1849.2" y="1417.1"/>
<use href="#mEG20" x="1867.9" y="1417.5"/>
<use href="#mEG20" x="1886.5" y="1417.9"/>
<use href="#mEG20" x="1905.2" y="1418.3"/>
<use href="#mEG20" x="1923.9" y="1418.6"/>
<use href="#mEG20" x="1942.5" y="1419.3"/>
<use href="#mEG20" x="1961.2" y="1420.1"/>
<use href="#mEG20" x="1979.8" y="1420.8"/>
<use href="#mEG20" x="1998.5" y="1421.6"/>
<use href="#mEG20" x="2017.2" y="1422.3"/>
<use href="#mEG20" x="2035.8" y="1423.1"/>
<use href="#mEG20" x="2054.5" y="1423.9"/>
<use href="#mEG20" x="2073.1" y="1424.6"/>
<use href="#mEG20" x="2091.8" y="1428.0"/>
<use href="#mEG20" x="2110.4" y="1431.5"/>
<use href="#mEG20" x="2129.1" y="1434.9"/>
<use href="#mEG20" x="2147.8" y="1438.3"/>
<use href="#mEG20" x="2166.4" y="1440.7"/>
<use href="#mEG20" x="2185.1" y="1442.7"/>
<use href="#mEG20" x="2203.7" y="1444.8"/>
<use href="#mEG20" x="2222.4" y="1446.9"/>
<polyline transform="scale(0.876,1)" points="407.0,1530.5 428.3,1530.3 449.6,1530.1 470.9,1529.9 492.2,1529.7 513.5,1529.5 534.8,1529.4 556.1,1529.2 577.4,1529.0 598.7,1511.8 620.0,1394.1 641.3,1376.5 662.6,1373.6 683.9,1374.5 705.2,1373.6 726.5,1373.6 747.8,1370.7 769.1,1358.9 790.4,1335.5 811.7,1323.8 833.0,1312.0 854.3,1269.1 875.6,1244.6 896.9,1229.9 918.2,1234.4 939.5,1229.8 960.8,1208.7 982.1,1201.6 1003.4,1191.3 1024.7,1177.2 1046.0,1153.4 1067.3,1148.4 1088.6,1142.0 1109.9,1138.3 1131.2,1135.6 1152.5,1134.4 1173.8,1133.2 1195.1,1133.2 1216.4,1133.2 1237.7,1133.2 1259.0,1133.2 1280.3,1131.7 1301.6,1130.2 1322.9,1128.8 1344.2,1127.3 1365.5,1127.3 1386.8,1126.4 1408.1,1142.8 1429.4,1127.0 1450.7,1109.2 1472.0,1102.4 1493.3,1088.0 1514.6,1102.6 1535.9,1095.9 1557.2,1113.5 1578.5,1118.5 1599.8,1138.4 1621.1,1144.0 1642.4,1129.9 1663.7,1138.1 1685.0,1163.4 1706.3,1162.8 1727.6,1177.2 1748.9,1190.1 1770.2,1230.8 1791.5,1232.7 1812.8,1236.4 1834.1,1252.7 1855.4,1262.2 1876.7,1254.9 1898.0,1273.3 1919.3,1276.0 1940.6,1279.4 1961.9,1299.8 1983.2,1304.5 2004.5,1308.5 2025.8,1317.5 2047.1,1326.5 2068.4,1332.0 2089.7,1337.4 2111.0,1343.2 2132.3,1349.0 2153.6,1350.8 2174.9,1352.7 2196.2,1359.8 2217.5,1367.2 2238.8,1371.7 2260.1,1376.2 2281.4,1377.5 2302.7,1378.8 2324.0,1377.6 2345.3,1376.2 2366.6,1381.3 2387.9,1386.4 2409.2,1387.8 2430.5,1389.1 2451.8,1396.9 2473.1,1405.0 2494.4,1410.1 2515.7,1415.1 2537.0,1423.4" fill="none" stroke="#00CCCC" stroke-width="12.9" stroke-linejoin="round" stroke-linecap="round"/>
<use href="#mFG20" x="356.5" y="1530.5"/>
<use href="#mFG20" x="375.2" y="1530.3"/>
<use href="#mFG20" x="393.8" y="1530.1"/>
<use href="#mFG20" x="412.5" y="1529.9"/>
<use href="#mFG20" x="431.1" y="1529.7"/>
<use href="#mFG20" x="449.8" y="1529.5"/>
<use href="#mFG20" x="468.5" y="1529.4"/>
<use href="#mFG20" x="487.1" y="1529.2"/>
<use href="#mFG20" x="505.8" y="1529.0"/>
<use href="#mFG20" x="524.4" y="1511.8"/>
<use href="#mFG20" x="543.1" y="1394.1"/>
<use href="#mFG20" x="561.7" y="1376.5"/>
<use href="#mFG20" x="580.4" y="1373.6"/>
<use href="#mFG20" x="599.1" y="1374.5"/>
<use href="#mFG20" x="617.7" y="1373.6"/>
<use href="#mFG20" x="636.4" y="1373.6"/>
<use href="#mFG20" x="655.0" y="1370.7"/>
<use href="#mFG20" x="673.7" y="1358.9"/>
<use href="#mFG20" x="692.4" y="1335.5"/>
<use href="#mFG20" x="711.0" y="1323.8"/>
<use href="#mFG20" x="729.7" y="1312.0"/>
<use href="#mFG20" x="748.3" y="1269.1"/>
<use href="#mFG20" x="767.0" y="1244.6"/>
<use href="#mFG20" x="785.7" y="1229.9"/>
<use href="#mFG20" x="804.3" y="1234.4"/>
<use href="#mFG20" x="823.0" y="1229.8"/>
<use href="#mFG20" x="841.6" y="1208.7"/>
<use href="#mFG20" x="860.3" y="1201.6"/>
<use href="#mFG20" x="879.0" y="1191.3"/>
<use href="#mFG20" x="897.6" y="1177.2"/>
<use href="#mFG20" x="916.3" y="1153.4"/>
<use href="#mFG20" x="934.9" y="1148.4"/>
<use href="#mFG20" x="953.6" y="1142.0"/>
<use href="#mFG20" x="972.2" y="1138.3"/>
<use href="#mFG20" x="990.9" y="1135.6"/>
<use href="#mFG20" x="1009.6" y="1134.4"/>
<use href="#mFG20" x="1028.2" y="1133.2"/>
<use href="#mFG20" x="1046.9" y="1133.2"/>
<use href="#mFG20" x="1065.5" y="1133.2"/>
<use href="#mFG20" x="1084.2" y="1133.2"/>
<use href="#mFG20" x="1102.9" y="1133.2"/>
<use href="#mFG20" x="1121.5" y="1131.7"/>
<use href="#mFG20" x="1140.2" y="1130.2"/>
<use href="#mFG20" x="1158.8" y="1128.8"/>
<use href="#mFG20" x="1177.5" y="1127.3"/>
<use href="#mFG20" x="1196.2" y="1127.3"/>
<use href="#mFG20" x="1214.8" y="1126.4"/>
<use href="#mFG20" x="1233.5" y="1142.8"/>
<use href="#mFG20" x="1252.1" y="1127.0"/>
<use href="#mFG20" x="1270.8" y="1109.2"/>
<use href="#mFG20" x="1289.4" y="1102.4"/>
<use href="#mFG20" x="1308.1" y="1088.0"/>
<use href="#mFG20" x="1326.8" y="1102.6"/>
<use href="#mFG20" x="1345.4" y="1095.9"/>
<use href="#mFG20" x="1364.1" y="1113.5"/>
<use href="#mFG20" x="1382.7" y="1118.5"/>
<use href="#mFG20" x="1401.4" y="1138.4"/>
<use href="#mFG20" x="1420.1" y="1144.0"/>
<use href="#mFG20" x="1438.7" y="1129.9"/>
<use href="#mFG20" x="1457.4" y="1138.1"/>
<use href="#mFG20" x="1476.0" y="1163.4"/>
<use href="#mFG20" x="1494.7" y="1162.8"/>
<use href="#mFG20" x="1513.4" y="1177.2"/>
<use href="#mFG20" x="1532.0" y="1190.1"/>
<use href="#mFG20" x="1550.7" y="1230.8"/>
<use href="#mFG20" x="1569.3" y="1232.7"/>
<use href="#mFG20" x="1588.0" y="1236.4"/>
<use href="#mFG20" x="1606.7" y="1252.7"/>
<use href="#mFG20" x="1625.3" y="1262.2"/>
<use href="#mFG20" x="1644.0" y="1254.9"/>
<use href="#mFG20" x="1662.6" y="1273.3"/>
<use href="#mFG20" x="1681.3" y="1276.0"/>
<use href="#mFG20" x="1699.9" y="1279.4"/>
<use href="#mFG20" x="1718.6" y="1299.8"/>
<use href="#mFG20" x="1737.3" y="1304.5"/>
<use href="#mFG20" x="1755.9" y="1308.5"/>
<use href="#mFG20" x="1774.6" y="1317.5"/>
<use href="#mFG20" x="1793.2" y="1326.5"/>
<use href="#mFG20" x="1811.9" y="1332.0"/>
<use href="#mFG20" x="1830.6" y="1337.4"/>
<use href="#mFG20" x="1849.2" y="1343.2"/>
<use href="#mFG20" x="1867.9" y="1349.0"/>
<use href="#mFG20" x="1886.5" y="1350.8"/>
<use href="#mFG20" x="1905.2" y="1352.7"/>
<use href="#mFG20" x="1923.9" y="1359.8"/>
<use href="#mFG20" x="1942.5" y="1367.2"/>
<use href="#mFG20" x="1961.2" y="1371.7"/>
<use href="#mFG20" x="1979.8" y="1376.2"/>
<use href="#mFG20" x="1998.5" y="1377.5"/>
<use href="#mFG20" x="2017.2" y="1378.8"/>
<use href="#mFG20" x="2035.8" y="1377.6"/>
<use href="#mFG20" x="2054.5" y="1376.2"/>
<use href="#mFG20" x="2073.1" y="1381.3"/>
<use href="#mFG20" x="2091.8" y="1386.4"/>
<use href="#mFG20" x="2110.4" y="1387.8"/>
<use href="#mFG20" x="2129.1" y="1389.1"/>
<use href="#mFG20" x="2147.8" y="1396.9"/>
<use href="#mFG20" x="2166.4" y="1405.0"/>
<use href="#mFG20" x="2185.1" y="1410.1"/>
<use href="#mFG20" x="2203.7" y="1415.1"/>
<use href="#mFG20" x="2222.4" y="1423.4"/>
<polyline transform="scale(0.876,1)" points="407.0,1529.0 428.3,1529.0 449.6,1529.0 470.9,1529.0 492.2,1529.0 513.5,1529.0 534.8,1529.0 556.1,1426.4 577.4,1423.4 598.7,1420.5 620.0,1413.2 641.3,1400.6 662.6,1376.8 683.9,1356.6 705.2,1341.4 726.5,1329.6 747.8,1318.6 769.1,1307.9 790.4,1295.2 811.7,1279.8 833.0,1266.6 854.3,1237.3 875.6,1206.5 896.9,1169.8 918.2,1130.2 939.5,1115.6 960.8,1106.8 982.1,1098.0 1003.4,1080.4 1024.7,1077.5 1046.0,1078.9 1067.3,1098.0 1088.6,1112.7 1109.9,1142.0 1131.2,1165.4 1152.5,1188.9 1173.8,1209.4 1195.1,1224.1 1216.4,1241.7 1237.7,1262.2 1259.0,1279.8 1280.3,1294.4 1301.6,1309.1 1322.9,1317.9 1344.2,1323.8 1365.5,1329.6 1386.8,1339.4 1408.1,1349.2 1429.4,1358.9 1450.7,1370.7 1472.0,1382.4 1493.3,1397.1 1514.6,1414.7 1535.9,1432.2 1557.2,1441.3 1578.5,1450.3 1599.8,1457.7 1621.1,1462.5 1642.4,1467.4 1663.7,1463.0 1685.0,1458.6 1706.3,1458.6 1727.6,1460.6 1748.9,1463.0 1770.2,1465.5 1791.5,1467.9 1812.8,1470.4 1834.1,1472.1 1855.4,1473.9 1876.7,1475.6 1898.0,1477.4 1919.3,1479.2 1940.6,1479.3 1961.9,1479.4 1983.2,1479.5 2004.5,1479.7 2025.8,1479.8 2047.1,1479.9 2068.4,1480.1 2089.7,1480.2 2111.0,1480.3 2132.3,1480.7 2153.6,1481.1 2174.9,1481.5 2196.2,1481.9 2217.5,1482.2 2238.8,1482.6 2260.1,1483.0 2281.4,1483.4 2302.7,1483.8 2324.0,1484.1 2345.3,1484.5 2366.6,1484.9 2387.9,1485.3 2409.2,1485.7 2430.5,1486.0 2451.8,1486.4 2473.1,1486.8 2494.4,1487.2 2515.7,1487.6 2537.0,1488.0" fill="none" stroke="#8A4C4C" stroke-width="12.9" stroke-linejoin="round" stroke-linecap="round"/>
<use href="#mVMT20" x="356.5" y="1529.0"/>
<use href="#mVMT20" x="375.2" y="1529.0"/>
<use href="#mVMT20" x="393.8" y="1529.0"/>
<use href="#mVMT20" x="412.5" y="1529.0"/>
<use href="#mVMT20" x="431.1" y="1529.0"/>
<use href="#mVMT20" x="449.8" y="1529.0"/>
<use href="#mVMT20" x="468.5" y="1529.0"/>
<use href="#mVMT20" x="487.1" y="1426.4"/>
<use href="#mVMT20" x="505.8" y="1423.4"/>
<use href="#mVMT20" x="524.4" y="1420.5"/>
<use href="#mVMT20" x="543.1" y="1413.2"/>
<use href="#mVMT20" x="561.7" y="1400.6"/>
<use href="#mVMT20" x="580.4" y="1376.8"/>
<use href="#mVMT20" x="599.1" y="1356.6"/>
<use href="#mVMT20" x="617.7" y="1341.4"/>
<use href="#mVMT20" x="636.4" y="1329.6"/>
<use href="#mVMT20" x="655.0" y="1318.6"/>
<use href="#mVMT20" x="673.7" y="1307.9"/>
<use href="#mVMT20" x="692.4" y="1295.2"/>
<use href="#mVMT20" x="711.0" y="1279.8"/>
<use href="#mVMT20" x="729.7" y="1266.6"/>
<use href="#mVMT20" x="748.3" y="1237.3"/>
<use href="#mVMT20" x="767.0" y="1206.5"/>
<use href="#mVMT20" x="785.7" y="1169.8"/>
<use href="#mVMT20" x="804.3" y="1130.2"/>
<use href="#mVMT20" x="823.0" y="1115.6"/>
<use href="#mVMT20" x="841.6" y="1106.8"/>
<use href="#mVMT20" x="860.3" y="1098.0"/>
<use href="#mVMT20" x="879.0" y="1080.4"/>
<use href="#mVMT20" x="897.6" y="1077.5"/>
<use href="#mVMT20" x="916.3" y="1078.9"/>
<use href="#mVMT20" x="934.9" y="1098.0"/>
<use href="#mVMT20" x="953.6" y="1112.7"/>
<use href="#mVMT20" x="972.2" y="1142.0"/>
<use href="#mVMT20" x="990.9" y="1165.4"/>
<use href="#mVMT20" x="1009.6" y="1188.9"/>
<use href="#mVMT20" x="1028.2" y="1209.4"/>
<use href="#mVMT20" x="1046.9" y="1224.1"/>
<use href="#mVMT20" x="1065.5" y="1241.7"/>
<use href="#mVMT20" x="1084.2" y="1262.2"/>
<use href="#mVMT20" x="1102.9" y="1279.8"/>
<use href="#mVMT20" x="1121.5" y="1294.4"/>
<use href="#mVMT20" x="1140.2" y="1309.1"/>
<use href="#mVMT20" x="1158.8" y="1317.9"/>
<use href="#mVMT20" x="1177.5" y="1323.8"/>
<use href="#mVMT20" x="1196.2" y="1329.6"/>
<use href="#mVMT20" x="1214.8" y="1339.4"/>
<use href="#mVMT20" x="1233.5" y="1349.2"/>
<use href="#mVMT20" x="1252.1" y="1358.9"/>
<use href="#mVMT20" x="1270.8" y="1370.7"/>
<use href="#mVMT20" x="1289.4" y="1382.4"/>
<use href="#mVMT20" x="1308.1" y="1397.1"/>
<use href="#mVMT20" x="1326.8" y="1414.7"/>
<use href="#mVMT20" x="1345.4" y="1432.2"/>
<use href="#mVMT20" x="1364.1" y="1441.3"/>
<use href="#mVMT20" x="1382.7" y="1450.3"/>
<use href="#mVMT20" x="1401.4" y="1457.7"/>
<use href="#mVMT20" x="1420.1" y="1462.5"/>
<use href="#mVMT20" x="1438.7" y="1467.4"/>
<use href="#mVMT20" x="1457.4" y="1463.0"/>
<use href="#mVMT20" x="1476.0" y="1458.6"/>
<use href="#mVMT20" x="1494.7" y="1458.6"/>
<use href="#mVMT20" x="1513.4" y="1460.6"/>
<use href="#mVMT20" x="1532.0" y="1463.0"/>
<use href="#mVMT20" x="1550.7" y="1465.5"/>
<use href="#mVMT20" x="1569.3" y="1467.9"/>
<use href="#mVMT20" x="1588.0" y="1470.4"/>
<use href="#mVMT20" x="1606.7" y="1472.1"/>
<use href="#mVMT20" x="1625.3" y="1473.9"/>
<use href="#mVMT20" x="1644.0" y="1475.6"/>
<use href="#mVMT20" x="1662.6" y="1477.4"/>
<use href="#mVMT20" x="1681.3" y="1479.2"/>
<use href="#mVMT20" x="1699.9" y="1479.3"/>
<use href="#mVMT20" x="1718.6" y="1479.4"/>
<use href="#mVMT20" x="1737.3" y="1479.5"/>
<use href="#mVMT20" x="1755.9" y="1479.7"/>
<use href="#mVMT20" x="1774.6" y="1479.8"/>
<use href="#mVMT20" x="1793.2" y="1479.9"/>
<use href="#mVMT20" x="1811.9" y="1480.1"/>
<use href="#mVMT20" x="1830.6" y="1480.2"/>
<use href="#mVMT20" x="1849.2" y="1480.3"/>
<use href="#mVMT20" x="1867.9" y="1480.7"/>
<use href="#mVMT20" x="1886.5" y="1481.1"/>
<use href="#mVMT20" x="1905.2" y="1481.5"/>
<use href="#mVMT20" x="1923.9" y="1481.9"/>
<use href="#mVMT20" x="1942.5" y="1482.2"/>
<use href="#mVMT20" x="1961.2" y="1482.6"/>
<use href="#mVMT20" x="1979.8" y="1483.0"/>
<use href="#mVMT20" x="1998.5" y="1483.4"/>
<use href="#mVMT20" x="2017.2" y="1483.8"/>
<use href="#mVMT20" x="2035.8" y="1484.1"/>
<use href="#mVMT20" x="2054.5" y="1484.5"/>
<use href="#mVMT20" x="2073.1" y="1484.9"/>
<use href="#mVMT20" x="2091.8" y="1485.3"/>
<use href="#mVMT20" x="2110.4" y="1485.7"/>
<use href="#mVMT20" x="2129.1" y="1486.0"/>
<use href="#mVMT20" x="2147.8" y="1486.4"/>
<use href="#mVMT20" x="2166.4" y="1486.8"/>
<use href="#mVMT20" x="2185.1" y="1487.2"/>
<use href="#mVMT20" x="2203.7" y="1487.6"/>
<use href="#mVMT20" x="2222.4" y="1488.0"/>
<polyline transform="scale(0.876,1)" points="407.0,1530.5 428.3,1530.5 449.6,1530.5 470.9,1530.5 492.2,1530.5 513.5,1530.5 534.8,1530.5 556.1,1530.5 577.4,1530.5 598.7,1499.9 620.0,1344.3 641.3,1347.2 662.6,1351.0 683.9,1349.3 705.2,1356.0 726.5,1357.8 747.8,1361.3 769.1,1356.0 790.4,1351.6 811.7,1345.8 833.0,1337.5 854.3,1326.7 875.6,1317.9 896.9,1309.5 918.2,1299.2 939.5,1279.8 960.8,1254.2 982.1,1238.7 1003.4,1224.9 1024.7,1211.0 1046.0,1209.4 1067.3,1209.4 1088.6,1199.2 1109.9,1197.7 1131.2,1195.9 1152.5,1188.7 1173.8,1181.5 1195.1,1174.2 1216.4,1182.7 1237.7,1177.2 1259.0,1168.7 1280.3,1164.6 1301.6,1163.5 1322.9,1162.5 1344.2,1163.7 1365.5,1165.0 1386.8,1166.2 1408.1,1167.5 1429.4,1166.3 1450.7,1169.8 1472.0,1173.3 1493.3,1184.5 1514.6,1177.7 1535.9,1169.8 1557.2,1171.0 1578.5,1168.7 1599.8,1164.3 1621.1,1181.0 1642.4,1165.4 1663.7,1164.3 1685.0,1174.2 1706.3,1168.7 1727.6,1183.1 1748.9,1188.1 1770.2,1190.4 1791.5,1179.5 1812.8,1186.4 1834.1,1192.3 1855.4,1187.6 1876.7,1201.2 1898.0,1203.2 1919.3,1206.1 1940.6,1223.1 1961.9,1222.4 1983.2,1228.3 2004.5,1226.1 2025.8,1230.0 2047.1,1234.0 2068.4,1247.5 2089.7,1259.8 2111.0,1256.2 2132.3,1264.4 2153.6,1273.2 2174.9,1282.9 2196.2,1289.9 2217.5,1296.5 2238.8,1302.3 2260.1,1308.1 2281.4,1314.3 2302.7,1312.1 2324.0,1316.1 2345.3,1310.9 2366.6,1323.9 2387.9,1332.7 2409.2,1340.8 2430.5,1338.2 2451.8,1345.9 2473.1,1349.9 2494.4,1353.5 2515.7,1360.3 2537.0,1374.8" fill="none" stroke="#8E8C00" stroke-width="12.9" stroke-linejoin="round" stroke-linecap="round"/>
<use href="#mFGVMT20" x="356.5" y="1530.5"/>
<use href="#mFGVMT20" x="375.2" y="1530.5"/>
<use href="#mFGVMT20" x="393.8" y="1530.5"/>
<use href="#mFGVMT20" x="412.5" y="1530.5"/>
<use href="#mFGVMT20" x="431.1" y="1530.5"/>
<use href="#mFGVMT20" x="449.8" y="1530.5"/>
<use href="#mFGVMT20" x="468.5" y="1530.5"/>
<use href="#mFGVMT20" x="487.1" y="1530.5"/>
<use href="#mFGVMT20" x="505.8" y="1530.5"/>
<use href="#mFGVMT20" x="524.4" y="1499.9"/>
<use href="#mFGVMT20" x="543.1" y="1344.3"/>
<use href="#mFGVMT20" x="561.7" y="1347.2"/>
<use href="#mFGVMT20" x="580.4" y="1351.0"/>
<use href="#mFGVMT20" x="599.1" y="1349.3"/>
<use href="#mFGVMT20" x="617.7" y="1356.0"/>
<use href="#mFGVMT20" x="636.4" y="1357.8"/>
<use href="#mFGVMT20" x="655.0" y="1361.3"/>
<use href="#mFGVMT20" x="673.7" y="1356.0"/>
<use href="#mFGVMT20" x="692.4" y="1351.6"/>
<use href="#mFGVMT20" x="711.0" y="1345.8"/>
<use href="#mFGVMT20" x="729.7" y="1337.5"/>
<use href="#mFGVMT20" x="748.3" y="1326.7"/>
<use href="#mFGVMT20" x="767.0" y="1317.9"/>
<use href="#mFGVMT20" x="785.7" y="1309.5"/>
<use href="#mFGVMT20" x="804.3" y="1299.2"/>
<use href="#mFGVMT20" x="823.0" y="1279.8"/>
<use href="#mFGVMT20" x="841.6" y="1254.2"/>
<use href="#mFGVMT20" x="860.3" y="1238.7"/>
<use href="#mFGVMT20" x="879.0" y="1224.9"/>
<use href="#mFGVMT20" x="897.6" y="1211.0"/>
<use href="#mFGVMT20" x="916.3" y="1209.4"/>
<use href="#mFGVMT20" x="934.9" y="1209.4"/>
<use href="#mFGVMT20" x="953.6" y="1199.2"/>
<use href="#mFGVMT20" x="972.2" y="1197.7"/>
<use href="#mFGVMT20" x="990.9" y="1195.9"/>
<use href="#mFGVMT20" x="1009.6" y="1188.7"/>
<use href="#mFGVMT20" x="1028.2" y="1181.5"/>
<use href="#mFGVMT20" x="1046.9" y="1174.2"/>
<use href="#mFGVMT20" x="1065.5" y="1182.7"/>
<use href="#mFGVMT20" x="1084.2" y="1177.2"/>
<use href="#mFGVMT20" x="1102.9" y="1168.7"/>
<use href="#mFGVMT20" x="1121.5" y="1164.6"/>
<use href="#mFGVMT20" x="1140.2" y="1163.5"/>
<use href="#mFGVMT20" x="1158.8" y="1162.5"/>
<use href="#mFGVMT20" x="1177.5" y="1163.7"/>
<use href="#mFGVMT20" x="1196.2" y="1165.0"/>
<use href="#mFGVMT20" x="1214.8" y="1166.2"/>
<use href="#mFGVMT20" x="1233.5" y="1167.5"/>
<use href="#mFGVMT20" x="1252.1" y="1166.3"/>
<use href="#mFGVMT20" x="1270.8" y="1169.8"/>
<use href="#mFGVMT20" x="1289.4" y="1173.3"/>
<use href="#mFGVMT20" x="1308.1" y="1184.5"/>
<use href="#mFGVMT20" x="1326.8" y="1177.7"/>
<use href="#mFGVMT20" x="1345.4" y="1169.8"/>
<use href="#mFGVMT20" x="1364.1" y="1171.0"/>
<use href="#mFGVMT20" x="1382.7" y="1168.7"/>
<use href="#mFGVMT20" x="1401.4" y="1164.3"/>
<use href="#mFGVMT20" x="1420.1" y="1181.0"/>
<use href="#mFGVMT20" x="1438.7" y="1165.4"/>
<use href="#mFGVMT20" x="1457.4" y="1164.3"/>
<use href="#mFGVMT20" x="1476.0" y="1174.2"/>
<use href="#mFGVMT20" x="1494.7" y="1168.7"/>
<use href="#mFGVMT20" x="1513.4" y="1183.1"/>
<use href="#mFGVMT20" x="1532.0" y="1188.1"/>
<use href="#mFGVMT20" x="1550.7" y="1190.4"/>
<use href="#mFGVMT20" x="1569.3" y="1179.5"/>
<use href="#mFGVMT20" x="1588.0" y="1186.4"/>
<use href="#mFGVMT20" x="1606.7" y="1192.3"/>
<use href="#mFGVMT20" x="1625.3" y="1187.6"/>
<use href="#mFGVMT20" x="1644.0" y="1201.2"/>
<use href="#mFGVMT20" x="1662.6" y="1203.2"/>
<use href="#mFGVMT20" x="1681.3" y="1206.1"/>
<use href="#mFGVMT20" x="1699.9" y="1223.1"/>
<use href="#mFGVMT20" x="1718.6" y="1222.4"/>
<use href="#mFGVMT20" x="1737.3" y="1228.3"/>
<use href="#mFGVMT20" x="1755.9" y="1226.1"/>
<use href="#mFGVMT20" x="1774.6" y="1230.0"/>
<use href="#mFGVMT20" x="1793.2" y="1234.0"/>
<use href="#mFGVMT20" x="1811.9" y="1247.5"/>
<use href="#mFGVMT20" x="1830.6" y="1259.8"/>
<use href="#mFGVMT20" x="1849.2" y="1256.2"/>
<use href="#mFGVMT20" x="1867.9" y="1264.4"/>
<use href="#mFGVMT20" x="1886.5" y="1273.2"/>
<use href="#mFGVMT20" x="1905.2" y="1282.9"/>
<use href="#mFGVMT20" x="1923.9" y="1289.9"/>
<use href="#mFGVMT20" x="1942.5" y="1296.5"/>
<use href="#mFGVMT20" x="1961.2" y="1302.3"/>
<use href="#mFGVMT20" x="1979.8" y="1308.1"/>
<use href="#mFGVMT20" x="1998.5" y="1314.3"/>
<use href="#mFGVMT20" x="2017.2" y="1312.1"/>
<use href="#mFGVMT20" x="2035.8" y="1316.1"/>
<use href="#mFGVMT20" x="2054.5" y="1310.9"/>
<use href="#mFGVMT20" x="2073.1" y="1323.9"/>
<use href="#mFGVMT20" x="2091.8" y="1332.7"/>
<use href="#mFGVMT20" x="2110.4" y="1340.8"/>
<use href="#mFGVMT20" x="2129.1" y="1338.2"/>
<use href="#mFGVMT20" x="2147.8" y="1345.9"/>
<use href="#mFGVMT20" x="2166.4" y="1349.9"/>
<use href="#mFGVMT20" x="2185.1" y="1353.5"/>
<use href="#mFGVMT20" x="2203.7" y="1360.3"/>
<use href="#mFGVMT20" x="2222.4" y="1374.8"/>
<polyline transform="scale(0.876,1)" points="407.0,1529.9 428.3,1529.9 449.6,1529.9 470.9,1529.9 492.2,1529.9 513.5,1529.9 534.8,1529.9 556.1,1529.9 577.4,1529.9 598.7,1529.9 620.0,1529.9 641.3,1529.9 662.6,1529.9 683.9,1529.9 705.2,1529.9 726.5,1529.9 747.8,1529.9 769.1,1525.0 790.4,1520.2 811.7,1499.7 833.0,1487.1 854.3,1478.3 875.6,1468.0 896.9,1447.3 918.2,1449.7 939.5,1459.4 960.8,1483.8 982.1,1491.7 1003.4,1493.8 1024.7,1495.3 1046.0,1496.7 1067.3,1497.1 1088.6,1497.5 1109.9,1497.8 1131.2,1498.2 1152.5,1502.6 1173.8,1294.4 1195.1,1315.0 1216.4,1341.4 1237.7,1351.3 1259.0,1360.7 1280.3,1358.9 1301.6,1358.9 1322.9,1358.9 1344.2,1358.0 1365.5,1357.0 1386.8,1356.0 1408.1,1351.5 1429.4,1347.0 1450.7,1347.8 1472.0,1353.1 1493.3,1351.8 1514.6,1348.5 1535.9,1345.5 1557.2,1339.5 1578.5,1336.3 1599.8,1339.6 1621.1,1342.7 1642.4,1341.7 1663.7,1342.3 1685.0,1336.1 1706.3,1325.3 1727.6,1344.6 1748.9,1352.6 1770.2,1367.7 1791.5,1374.2 1812.8,1380.7 1834.1,1387.2 1855.4,1393.6 1876.7,1399.8 1898.0,1404.4 1919.3,1409.1 1940.6,1413.8 1961.9,1418.5 1983.2,1423.2 2004.5,1427.8 2025.8,1430.6 2047.1,1433.4 2068.4,1436.2 2089.7,1439.0 2111.0,1441.8 2132.3,1444.6 2153.6,1442.4 2174.9,1295.6 2196.2,1382.4 2217.5,1385.3 2238.8,1400.0 2260.1,1411.7 2281.4,1422.0 2302.7,1432.2 2324.0,1457.4 2345.3,1476.2 2366.6,1482.4 2387.9,1483.0 2409.2,1483.6 2430.5,1483.6 2451.8,1483.6 2473.1,1483.6 2494.4,1483.6 2515.7,1483.6 2537.0,1483.6" fill="none" stroke="#FF6600" stroke-width="12.9" stroke-linejoin="round" stroke-linecap="round"/>
<use href="#mEG40" x="356.5" y="1529.9"/>
<use href="#mEG40" x="375.2" y="1529.9"/>
<use href="#mEG40" x="393.8" y="1529.9"/>
<use href="#mEG40" x="412.5" y="1529.9"/>
<use href="#mEG40" x="431.1" y="1529.9"/>
<use href="#mEG40" x="449.8" y="1529.9"/>
<use href="#mEG40" x="468.5" y="1529.9"/>
<use href="#mEG40" x="487.1" y="1529.9"/>
<use href="#mEG40" x="505.8" y="1529.9"/>
<use href="#mEG40" x="524.4" y="1529.9"/>
<use href="#mEG40" x="543.1" y="1529.9"/>
<use href="#mEG40" x="561.7" y="1529.9"/>
<use href="#mEG40" x="580.4" y="1529.9"/>
<use href="#mEG40" x="599.1" y="1529.9"/>
<use href="#mEG40" x="617.7" y="1529.9"/>
<use href="#mEG40" x="636.4" y="1529.9"/>
<use href="#mEG40" x="655.0" y="1529.9"/>
<use href="#mEG40" x="673.7" y="1525.0"/>
<use href="#mEG40" x="692.4" y="1520.2"/>
<use href="#mEG40" x="711.0" y="1499.7"/>
<use href="#mEG40" x="729.7" y="1487.1"/>
<use href="#mEG40" x="748.3" y="1478.3"/>
<use href="#mEG40" x="767.0" y="1468.0"/>
<use href="#mEG40" x="785.7" y="1447.3"/>
<use href="#mEG40" x="804.3" y="1449.7"/>
<use href="#mEG40" x="823.0" y="1459.4"/>
<use href="#mEG40" x="841.6" y="1483.8"/>
<use href="#mEG40" x="860.3" y="1491.7"/>
<use href="#mEG40" x="879.0" y="1493.8"/>
<use href="#mEG40" x="897.6" y="1495.3"/>
<use href="#mEG40" x="916.3" y="1496.7"/>
<use href="#mEG40" x="934.9" y="1497.1"/>
<use href="#mEG40" x="953.6" y="1497.5"/>
<use href="#mEG40" x="972.2" y="1497.8"/>
<use href="#mEG40" x="990.9" y="1498.2"/>
<use href="#mEG40" x="1009.6" y="1502.6"/>
<use href="#mEG40" x="1028.2" y="1294.4"/>
<use href="#mEG40" x="1046.9" y="1315.0"/>
<use href="#mEG40" x="1065.5" y="1341.4"/>
<use href="#mEG40" x="1084.2" y="1351.3"/>
<use href="#mEG40" x="1102.9" y="1360.7"/>
<use href="#mEG40" x="1121.5" y="1358.9"/>
<use href="#mEG40" x="1140.2" y="1358.9"/>
<use href="#mEG40" x="1158.8" y="1358.9"/>
<use href="#mEG40" x="1177.5" y="1358.0"/>
<use href="#mEG40" x="1196.2" y="1357.0"/>
<use href="#mEG40" x="1214.8" y="1356.0"/>
<use href="#mEG40" x="1233.5" y="1351.5"/>
<use href="#mEG40" x="1252.1" y="1347.0"/>
<use href="#mEG40" x="1270.8" y="1347.8"/>
<use href="#mEG40" x="1289.4" y="1353.1"/>
<use href="#mEG40" x="1308.1" y="1351.8"/>
<use href="#mEG40" x="1326.8" y="1348.5"/>
<use href="#mEG40" x="1345.4" y="1345.5"/>
<use href="#mEG40" x="1364.1" y="1339.5"/>
<use href="#mEG40" x="1382.7" y="1336.3"/>
<use href="#mEG40" x="1401.4" y="1339.6"/>
<use href="#mEG40" x="1420.1" y="1342.7"/>
<use href="#mEG40" x="1438.7" y="1341.7"/>
<use href="#mEG40" x="1457.4" y="1342.3"/>
<use href="#mEG40" x="1476.0" y="1336.1"/>
<use href="#mEG40" x="1494.7" y="1325.3"/>
<use href="#mEG40" x="1513.4" y="1344.6"/>
<use href="#mEG40" x="1532.0" y="1352.6"/>
<use href="#mEG40" x="1550.7" y="1367.7"/>
<use href="#mEG40" x="1569.3" y="1374.2"/>
<use href="#mEG40" x="1588.0" y="1380.7"/>
<use href="#mEG40" x="1606.7" y="1387.2"/>
<use href="#mEG40" x="1625.3" y="1393.6"/>
<use href="#mEG40" x="1644.0" y="1399.8"/>
<use href="#mEG40" x="1662.6" y="1404.4"/>
<use href="#mEG40" x="1681.3" y="1409.1"/>
<use href="#mEG40" x="1699.9" y="1413.8"/>
<use href="#mEG40" x="1718.6" y="1418.5"/>
<use href="#mEG40" x="1737.3" y="1423.2"/>
<use href="#mEG40" x="1755.9" y="1427.8"/>
<use href="#mEG40" x="1774.6" y="1430.6"/>
<use href="#mEG40" x="1793.2" y="1433.4"/>
<use href="#mEG40" x="1811.9" y="1436.2"/>
<use href="#mEG40" x="1830.6" y="1439.0"/>
<use href="#mEG40" x="1849.2" y="1441.8"/>
<use href="#mEG40" x="1867.9" y="1444.6"/>
<use href="#mEG40" x="1886.5" y="1442.4"/>
<use href="#mEG40" x="1905.2" y="1295.6"/>
<use href="#mEG40" x="1923.9" y="1382.4"/>
<use href="#mEG40" x="1942.5" y="1385.3"/>
<use href="#mEG40" x="1961.2" y="1400.0"/>
<use href="#mEG40" x="1979.8" y="1411.7"/>
<use href="#mEG40" x="1998.5" y="1422.0"/>
<use href="#mEG40" x="2017.2" y="1432.2"/>
<use href="#mEG40" x="2035.8" y="1457.4"/>
<use href="#mEG40" x="2054.5" y="1476.2"/>
<use href="#mEG40" x="2073.1" y="1482.4"/>
<use href="#mEG40" x="2091.8" y="1483.0"/>
<use href="#mEG40" x="2110.4" y="1483.6"/>
<use href="#mEG40" x="2129.1" y="1483.6"/>
<use href="#mEG40" x="2147.8" y="1483.6"/>
<use href="#mEG40" x="2166.4" y="1483.6"/>
<use href="#mEG40" x="2185.1" y="1483.6"/>
<use href="#mEG40" x="2203.7" y="1483.6"/>
<use href="#mEG40" x="2222.4" y="1483.6"/>
<polyline transform="scale(0.876,1)" points="407.0,1531.6 428.3,1531.6 449.6,1531.6 470.9,1531.6 492.2,1531.6 513.5,1531.6 534.8,1531.6 556.1,1531.6 577.4,1531.6 598.7,1531.6 620.0,1531.6 641.3,1531.6 662.6,1531.6 683.9,1531.6 705.2,1531.6 726.5,1531.6 747.8,1531.6 769.1,1524.2 790.4,1516.7 811.7,1511.1 833.0,1505.5 854.3,1499.3 875.6,1489.9 896.9,1478.5 918.2,1477.5 939.5,1479.2 960.8,1478.2 982.1,1477.2 1003.4,1476.2 1024.7,1476.2 1046.0,1476.2 1067.3,1476.2 1088.6,1476.2 1109.9,1485.0 1131.2,1407.5 1152.5,1404.7 1173.8,1413.8 1195.1,1427.3 1216.4,1437.5 1237.7,1441.0 1259.0,1437.5 1280.3,1409.8 1301.6,1379.9 1322.9,1385.2 1344.2,1388.9 1365.5,1396.4 1386.8,1407.1 1408.1,1417.6 1429.4,1426.4 1450.7,1435.2 1472.0,1439.8 1493.3,1439.7 1514.6,1441.3 1535.9,1446.1 1557.2,1450.9 1578.5,1453.9 1599.8,1455.9 1621.1,1457.9 1642.4,1459.6 1663.7,1461.2 1685.0,1462.9 1706.3,1464.5 1727.6,1466.5 1748.9,1468.4 1770.2,1470.4 1791.5,1472.1 1812.8,1473.9 1834.1,1475.6 1855.4,1477.4 1876.7,1479.2 1898.0,1480.0 1919.3,1480.9 1940.6,1481.8 1961.9,1482.6 1983.2,1483.5 2004.5,1484.4 2025.8,1485.3 2047.1,1486.1 2068.4,1486.7 2089.7,1487.0 2111.0,1487.4 2132.3,1487.7 2153.6,1488.1 2174.9,1488.4 2196.2,1488.8 2217.5,1489.1 2238.8,1489.5 2260.1,1489.8 2281.4,1490.2 2302.7,1490.5 2324.0,1490.9 2345.3,1491.2 2366.6,1491.5 2387.9,1491.8 2409.2,1492.1 2430.5,1492.3 2451.8,1492.6 2473.1,1492.9 2494.4,1493.2 2515.7,1493.5 2537.0,1493.8" fill="none" stroke="#4299CF" stroke-width="12.9" stroke-linejoin="round" stroke-linecap="round"/>
<use href="#mFGVMT40" x="356.5" y="1531.6"/>
<use href="#mFGVMT40" x="375.2" y="1531.6"/>
<use href="#mFGVMT40" x="393.8" y="1531.6"/>
<use href="#mFGVMT40" x="412.5" y="1531.6"/>
<use href="#mFGVMT40" x="431.1" y="1531.6"/>
<use href="#mFGVMT40" x="449.8" y="1531.6"/>
<use href="#mFGVMT40" x="468.5" y="1531.6"/>
<use href="#mFGVMT40" x="487.1" y="1531.6"/>
<use href="#mFGVMT40" x="505.8" y="1531.6"/>
<use href="#mFGVMT40" x="524.4" y="1531.6"/>
<use href="#mFGVMT40" x="543.1" y="1531.6"/>
<use href="#mFGVMT40" x="561.7" y="1531.6"/>
<use href="#mFGVMT40" x="580.4" y="1531.6"/>
<use href="#mFGVMT40" x="599.1" y="1531.6"/>
<use href="#mFGVMT40" x="617.7" y="1531.6"/>
<use href="#mFGVMT40" x="636.4" y="1531.6"/>
<use href="#mFGVMT40" x="655.0" y="1531.6"/>
<use href="#mFGVMT40" x="673.7" y="1524.2"/>
<use href="#mFGVMT40" x="692.4" y="1516.7"/>
<use href="#mFGVMT40" x="711.0" y="1511.1"/>
<use href="#mFGVMT40" x="729.7" y="1505.5"/>
<use href="#mFGVMT40" x="748.3" y="1499.3"/>
<use href="#mFGVMT40" x="767.0" y="1489.9"/>
<use href="#mFGVMT40" x="785.7" y="1478.5"/>
<use href="#mFGVMT40" x="804.3" y="1477.5"/>
<use href="#mFGVMT40" x="823.0" y="1479.2"/>
<use href="#mFGVMT40" x="841.6" y="1478.2"/>
<use href="#mFGVMT40" x="860.3" y="1477.2"/>
<use href="#mFGVMT40" x="879.0" y="1476.2"/>
<use href="#mFGVMT40" x="897.6" y="1476.2"/>
<use href="#mFGVMT40" x="916.3" y="1476.2"/>
<use href="#mFGVMT40" x="934.9" y="1476.2"/>
<use href="#mFGVMT40" x="953.6" y="1476.2"/>
<use href="#mFGVMT40" x="972.2" y="1485.0"/>
<use href="#mFGVMT40" x="990.9" y="1407.5"/>
<use href="#mFGVMT40" x="1009.6" y="1404.7"/>
<use href="#mFGVMT40" x="1028.2" y="1413.8"/>
<use href="#mFGVMT40" x="1046.9" y="1427.3"/>
<use href="#mFGVMT40" x="1065.5" y="1437.5"/>
<use href="#mFGVMT40" x="1084.2" y="1441.0"/>
<use href="#mFGVMT40" x="1102.9" y="1437.5"/>
<use href="#mFGVMT40" x="1121.5" y="1409.8"/>
<use href="#mFGVMT40" x="1140.2" y="1379.9"/>
<use href="#mFGVMT40" x="1158.8" y="1385.2"/>
<use href="#mFGVMT40" x="1177.5" y="1388.9"/>
<use href="#mFGVMT40" x="1196.2" y="1396.4"/>
<use href="#mFGVMT40" x="1214.8" y="1407.1"/>
<use href="#mFGVMT40" x="1233.5" y="1417.6"/>
<use href="#mFGVMT40" x="1252.1" y="1426.4"/>
<use href="#mFGVMT40" x="1270.8" y="1435.2"/>
<use href="#mFGVMT40" x="1289.4" y="1439.8"/>
<use href="#mFGVMT40" x="1308.1" y="1439.7"/>
<use href="#mFGVMT40" x="1326.8" y="1441.3"/>
<use href="#mFGVMT40" x="1345.4" y="1446.1"/>
<use href="#mFGVMT40" x="1364.1" y="1450.9"/>
<use href="#mFGVMT40" x="1382.7" y="1453.9"/>
<use href="#mFGVMT40" x="1401.4" y="1455.9"/>
<use href="#mFGVMT40" x="1420.1" y="1457.9"/>
<use href="#mFGVMT40" x="1438.7" y="1459.6"/>
<use href="#mFGVMT40" x="1457.4" y="1461.2"/>
<use href="#mFGVMT40" x="1476.0" y="1462.9"/>
<use href="#mFGVMT40" x="1494.7" y="1464.5"/>
<use href="#mFGVMT40" x="1513.4" y="1466.5"/>
<use href="#mFGVMT40" x="1532.0" y="1468.4"/>
<use href="#mFGVMT40" x="1550.7" y="1470.4"/>
<use href="#mFGVMT40" x="1569.3" y="1472.1"/>
<use href="#mFGVMT40" x="1588.0" y="1473.9"/>
<use href="#mFGVMT40" x="1606.7" y="1475.6"/>
<use href="#mFGVMT40" x="1625.3" y="1477.4"/>
<use href="#mFGVMT40" x="1644.0" y="1479.2"/>
<use href="#mFGVMT40" x="1662.6" y="1480.0"/>
<use href="#mFGVMT40" x="1681.3" y="1480.9"/>
<use href="#mFGVMT40" x="1699.9" y="1481.8"/>
<use href="#mFGVMT40" x="1718.6" y="1482.6"/>
<use href="#mFGVMT40" x="1737.3" y="1483.5"/>
<use href="#mFGVMT40" x="1755.9" y="1484.4"/>
<use href="#mFGVMT40" x="1774.6" y="1485.3"/>
<use href="#mFGVMT40" x="1793.2" y="1486.1"/>
<use href="#mFGVMT40" x="1811.9" y="1486.7"/>
<use href="#mFGVMT40" x="1830.6" y="1487.0"/>
<use href="#mFGVMT40" x="1849.2" y="1487.4"/>
<use href="#mFGVMT40" x="1867.9" y="1487.7"/>
<use href="#mFGVMT40" x="1886.5" y="1488.1"/>
<use href="#mFGVMT40" x="1905.2" y="1488.4"/>
<use href="#mFGVMT40" x="1923.9" y="1488.8"/>
<use href="#mFGVMT40" x="1942.5" y="1489.1"/>
<use href="#mFGVMT40" x="1961.2" y="1489.5"/>
<use href="#mFGVMT40" x="1979.8" y="1489.8"/>
<use href="#mFGVMT40" x="1998.5" y="1490.2"/>
<use href="#mFGVMT40" x="2017.2" y="1490.5"/>
<use href="#mFGVMT40" x="2035.8" y="1490.9"/>
<use href="#mFGVMT40" x="2054.5" y="1491.2"/>
<use href="#mFGVMT40" x="2073.1" y="1491.5"/>
<use href="#mFGVMT40" x="2091.8" y="1491.8"/>
<use href="#mFGVMT40" x="2110.4" y="1492.1"/>
<use href="#mFGVMT40" x="2129.1" y="1492.3"/>
<use href="#mFGVMT40" x="2147.8" y="1492.6"/>
<use href="#mFGVMT40" x="2166.4" y="1492.9"/>
<use href="#mFGVMT40" x="2185.1" y="1493.2"/>
<use href="#mFGVMT40" x="2203.7" y="1493.5"/>
<use href="#mFGVMT40" x="2222.4" y="1493.8"/>
<polyline transform="scale(0.876,1)" points="407.0,1531.6 428.3,1531.6 449.6,1531.6 470.9,1531.6 492.2,1531.6 513.5,1531.6 534.8,1531.6 556.1,1531.6 577.4,1531.6 598.7,1531.6 620.0,1531.6 641.3,1531.6 662.6,1526.1 683.9,1520.3 705.2,1515.8 726.5,1512.9 747.8,1509.1 769.1,1496.9 790.4,1475.2 811.7,1457.9 833.0,1449.4 854.3,1439.1 875.6,1418.6 896.9,1376.5 918.2,1382.7 939.5,1390.1 960.8,1390.8 982.1,1381.5 1003.4,1372.2 1024.7,1373.5 1046.0,1371.8 1067.3,1369.9 1088.6,1375.5 1109.9,1370.3 1131.2,1360.4 1152.5,1363.7 1173.8,1358.4 1195.1,1371.3 1216.4,1386.6 1237.7,1405.8 1259.0,1413.4 1280.3,1458.0 1301.6,1480.3 1322.9,1481.6 1344.2,1482.5 1365.5,1483.4 1386.8,1484.3 1408.1,1485.3 1429.4,1486.2 1450.7,1486.7 1472.0,1487.3 1493.3,1487.8 1514.6,1488.4 1535.9,1488.9 1557.2,1489.6 1578.5,1490.3 1599.8,1491.0 1621.1,1491.8 1642.4,1492.6 1663.7,1493.6 1685.0,1494.7 1706.3,1495.7 1727.6,1496.8 1748.9,1497.9 1770.2,1499.1 1791.5,1500.3 1812.8,1501.6 1834.1,1502.8 1855.4,1504.0 1876.7,1504.8 1898.0,1505.4 1919.3,1506.0 1940.6,1506.6 1961.9,1507.2 1983.2,1507.8 2004.5,1508.4 2025.8,1509.0 2047.1,1509.6 2068.4,1510.2 2089.7,1510.8 2111.0,1511.4 2132.3,1511.7 2153.6,1512.0 2174.9,1512.3 2196.2,1512.6 2217.5,1512.9 2238.8,1513.2 2260.1,1513.5 2281.4,1513.8 2302.7,1514.0 2324.0,1514.3 2345.3,1514.6 2366.6,1514.9 2387.9,1515.2 2409.2,1515.5 2430.5,1515.8 2451.8,1516.1 2473.1,1516.4 2494.4,1516.7 2515.7,1517.0 2537.0,1517.3" fill="none" stroke="#33B600" stroke-width="12.9" stroke-linejoin="round" stroke-linecap="round"/>
<use href="#mFG40" x="356.5" y="1531.6"/>
<use href="#mFG40" x="375.2" y="1531.6"/>
<use href="#mFG40" x="393.8" y="1531.6"/>
<use href="#mFG40" x="412.5" y="1531.6"/>
<use href="#mFG40" x="431.1" y="1531.6"/>
<use href="#mFG40" x="449.8" y="1531.6"/>
<use href="#mFG40" x="468.5" y="1531.6"/>
<use href="#mFG40" x="487.1" y="1531.6"/>
<use href="#mFG40" x="505.8" y="1531.6"/>
<use href="#mFG40" x="524.4" y="1531.6"/>
<use href="#mFG40" x="543.1" y="1531.6"/>
<use href="#mFG40" x="561.7" y="1531.6"/>
<use href="#mFG40" x="580.4" y="1526.1"/>
<use href="#mFG40" x="599.1" y="1520.3"/>
<use href="#mFG40" x="617.7" y="1515.8"/>
<use href="#mFG40" x="636.4" y="1512.9"/>
<use href="#mFG40" x="655.0" y="1509.1"/>
<use href="#mFG40" x="673.7" y="1496.9"/>
<use href="#mFG40" x="692.4" y="1475.2"/>
<use href="#mFG40" x="711.0" y="1457.9"/>
<use href="#mFG40" x="729.7" y="1449.4"/>
<use href="#mFG40" x="748.3" y="1439.1"/>
<use href="#mFG40" x="767.0" y="1418.6"/>
<use href="#mFG40" x="785.7" y="1376.5"/>
<use href="#mFG40" x="804.3" y="1382.7"/>
<use href="#mFG40" x="823.0" y="1390.1"/>
<use href="#mFG40" x="841.6" y="1390.8"/>
<use href="#mFG40" x="860.3" y="1381.5"/>
<use href="#mFG40" x="879.0" y="1372.2"/>
<use href="#mFG40" x="897.6" y="1373.5"/>
<use href="#mFG40" x="916.3" y="1371.8"/>
<use href="#mFG40" x="934.9" y="1369.9"/>
<use href="#mFG40" x="953.6" y="1375.5"/>
<use href="#mFG40" x="972.2" y="1370.3"/>
<use href="#mFG40" x="990.9" y="1360.4"/>
<use href="#mFG40" x="1009.6" y="1363.7"/>
<use href="#mFG40" x="1028.2" y="1358.4"/>
<use href="#mFG40" x="1046.9" y="1371.3"/>
<use href="#mFG40" x="1065.5" y="1386.6"/>
<use href="#mFG40" x="1084.2" y="1405.8"/>
<use href="#mFG40" x="1102.9" y="1413.4"/>
<use href="#mFG40" x="1121.5" y="1458.0"/>
<use href="#mFG40" x="1140.2" y="1480.3"/>
<use href="#mFG40" x="1158.8" y="1481.6"/>
<use href="#mFG40" x="1177.5" y="1482.5"/>
<use href="#mFG40" x="1196.2" y="1483.4"/>
<use href="#mFG40" x="1214.8" y="1484.3"/>
<use href="#mFG40" x="1233.5" y="1485.3"/>
<use href="#mFG40" x="1252.1" y="1486.2"/>
<use href="#mFG40" x="1270.8" y="1486.7"/>
<use href="#mFG40" x="1289.4" y="1487.3"/>
<use href="#mFG40" x="1308.1" y="1487.8"/>
<use href="#mFG40" x="1326.8" y="1488.4"/>
<use href="#mFG40" x="1345.4" y="1488.9"/>
<use href="#mFG40" x="1364.1" y="1489.6"/>
<use href="#mFG40" x="1382.7" y="1490.3"/>
<use href="#mFG40" x="1401.4" y="1491.0"/>
<use href="#mFG40" x="1420.1" y="1491.8"/>
<use href="#mFG40" x="1438.7" y="1492.6"/>
<use href="#mFG40" x="1457.4" y="1493.6"/>
<use href="#mFG40" x="1476.0" y="1494.7"/>
<use href="#mFG40" x="1494.7" y="1495.7"/>
<use href="#mFG40" x="1513.4" y="1496.8"/>
<use href="#mFG40" x="1532.0" y="1497.9"/>
<use href="#mFG40" x="1550.7" y="1499.1"/>
<use href="#mFG40" x="1569.3" y="1500.3"/>
<use href="#mFG40" x="1588.0" y="1501.6"/>
<use href="#mFG40" x="1606.7" y="1502.8"/>
<use href="#mFG40" x="1625.3" y="1504.0"/>
<use href="#mFG40" x="1644.0" y="1504.8"/>
<use href="#mFG40" x="1662.6" y="1505.4"/>
<use href="#mFG40" x="1681.3" y="1506.0"/>
<use href="#mFG40" x="1699.9" y="1506.6"/>
<use href="#mFG40" x="1718.6" y="1507.2"/>
<use href="#mFG40" x="1737.3" y="1507.8"/>
<use href="#mFG40" x="1755.9" y="1508.4"/>
<use href="#mFG40" x="1774.6" y="1509.0"/>
<use href="#mFG40" x="1793.2" y="1509.6"/>
<use href="#mFG40" x="1811.9" y="1510.2"/>
<use href="#mFG40" x="1830.6" y="1510.8"/>
<use href="#mFG40" x="1849.2" y="1511.4"/>
<use href="#mFG40" x="1867.9" y="1511.7"/>
<use href="#mFG40" x="1886.5" y="1512.0"/>
<use href="#mFG40" x="1905.2" y="1512.3"/>
<use href="#mFG40" x="1923.9" y="1512.6"/>
<use href="#mFG40" x="1942.5" y="1512.9"/>
<use href="#mFG40" x="1961.2" y="1513.2"/>
<use href="#mFG40" x="1979.8" y="1513.5"/>
<use href="#mFG40" x="1998.5" y="1513.8"/>
<use href="#mFG40" x="2017.2" y="1514.0"/>
<use href="#mFG40" x="2035.8" y="1514.3"/>
<use href="#mFG40" x="2054.5" y="1514.6"/>
<use href="#mFG40" x="2073.1" y="1514.9"/>
<use href="#mFG40" x="2091.8" y="1515.2"/>
<use href="#mFG40" x="2110.4" y="1515.5"/>
<use href="#mFG40" x="2129.1" y="1515.8"/>
<use href="#mFG40" x="2147.8" y="1516.1"/>
<use href="#mFG40" x="2166.4" y="1516.4"/>
<use href="#mFG40" x="2185.1" y="1516.7"/>
<use href="#mFG40" x="2203.7" y="1517.0"/>
<use href="#mFG40" x="2222.4" y="1517.3"/>
<polyline transform="scale(0.876,1)" points="407.0,1530.8 428.3,1530.6 449.6,1530.4 470.9,1530.2 492.2,1530.1 513.5,1529.9 534.8,1529.7 556.1,1529.5 577.4,1529.4 598.7,1529.2 620.0,1529.0 641.3,1528.0 662.6,1526.9 683.9,1525.9 705.2,1524.9 726.5,1523.9 747.8,1522.8 769.1,1521.8 790.4,1520.8 811.7,1519.8 833.0,1518.7 854.3,1517.7 875.6,1516.7 896.9,1515.7 918.2,1514.6 939.5,1513.6 960.8,1512.6 982.1,1511.6 1003.4,1510.5 1024.7,1509.5 1046.0,1508.5 1067.3,1507.0 1088.6,1505.5 1109.9,1504.1 1131.2,1502.6 1152.5,1500.3 1173.8,1498.0 1195.1,1495.7 1216.4,1494.9 1237.7,1494.3 1259.0,1493.8 1280.3,1493.8 1301.6,1493.8 1322.9,1493.8 1344.2,1493.8 1365.5,1493.3 1386.8,1492.8 1408.1,1492.3 1429.4,1347.2 1450.7,1384.1 1472.0,1405.5 1493.3,1413.7 1514.6,1406.4 1535.9,1412.4 1557.2,1424.6 1578.5,1436.7 1599.8,1445.8 1621.1,1450.4 1642.4,1454.9 1663.7,1459.5 1685.0,1467.4 1706.3,1469.8 1727.6,1472.1 1748.9,1476.4 1770.2,1480.7 1791.5,1485.0 1812.8,1485.5 1834.1,1485.9 1855.4,1486.3 1876.7,1486.8 1898.0,1487.2 1919.3,1487.7 1940.6,1488.2 1961.9,1488.7 1983.2,1489.1 2004.5,1489.6 2025.8,1490.1 2047.1,1490.6 2068.4,1491.0 2089.7,1491.4 2111.0,1491.9 2132.3,1492.3 2153.6,1492.7 2174.9,1493.1 2196.2,1493.6 2217.5,1494.0 2238.8,1494.4 2260.1,1494.9 2281.4,1495.3 2302.7,1495.6 2324.0,1496.0 2345.3,1496.4 2366.6,1496.7 2387.9,1497.1 2409.2,1497.5 2430.5,1497.8 2451.8,1498.2 2473.1,1498.6 2494.4,1498.9 2515.7,1499.3 2537.0,1499.7" fill="none" stroke="#777777" stroke-width="12.9" stroke-linejoin="round" stroke-linecap="round"/>
<use href="#mVMT40" x="356.5" y="1530.8"/>
<use href="#mVMT40" x="375.2" y="1530.6"/>
<use href="#mVMT40" x="393.8" y="1530.4"/>
<use href="#mVMT40" x="412.5" y="1530.2"/>
<use href="#mVMT40" x="431.1" y="1530.1"/>
<use href="#mVMT40" x="449.8" y="1529.9"/>
<use href="#mVMT40" x="468.5" y="1529.7"/>
<use href="#mVMT40" x="487.1" y="1529.5"/>
<use href="#mVMT40" x="505.8" y="1529.4"/>
<use href="#mVMT40" x="524.4" y="1529.2"/>
<use href="#mVMT40" x="543.1" y="1529.0"/>
<use href="#mVMT40" x="561.7" y="1528.0"/>
<use href="#mVMT40" x="580.4" y="1526.9"/>
<use href="#mVMT40" x="599.1" y="1525.9"/>
<use href="#mVMT40" x="617.7" y="1524.9"/>
<use href="#mVMT40" x="636.4" y="1523.9"/>
<use href="#mVMT40" x="655.0" y="1522.8"/>
<use href="#mVMT40" x="673.7" y="1521.8"/>
<use href="#mVMT40" x="692.4" y="1520.8"/>
<use href="#mVMT40" x="711.0" y="1519.8"/>
<use href="#mVMT40" x="729.7" y="1518.7"/>
<use href="#mVMT40" x="748.3" y="1517.7"/>
<use href="#mVMT40" x="767.0" y="1516.7"/>
<use href="#mVMT40" x="785.7" y="1515.7"/>
<use href="#mVMT40" x="804.3" y="1514.6"/>
<use href="#mVMT40" x="823.0" y="1513.6"/>
<use href="#mVMT40" x="841.6" y="1512.6"/>
<use href="#mVMT40" x="860.3" y="1511.6"/>
<use href="#mVMT40" x="879.0" y="1510.5"/>
<use href="#mVMT40" x="897.6" y="1509.5"/>
<use href="#mVMT40" x="916.3" y="1508.5"/>
<use href="#mVMT40" x="934.9" y="1507.0"/>
<use href="#mVMT40" x="953.6" y="1505.5"/>
<use href="#mVMT40" x="972.2" y="1504.1"/>
<use href="#mVMT40" x="990.9" y="1502.6"/>
<use href="#mVMT40" x="1009.6" y="1500.3"/>
<use href="#mVMT40" x="1028.2" y="1498.0"/>
<use href="#mVMT40" x="1046.9" y="1495.7"/>
<use href="#mVMT40" x="1065.5" y="1494.9"/>
<use href="#mVMT40" x="1084.2" y="1494.3"/>
<use href="#mVMT40" x="1102.9" y="1493.8"/>
<use href="#mVMT40" x="1121.5" y="1493.8"/>
<use href="#mVMT40" x="1140.2" y="1493.8"/>
<use href="#mVMT40" x="1158.8" y="1493.8"/>
<use href="#mVMT40" x="1177.5" y="1493.8"/>
<use href="#mVMT40" x="1196.2" y="1493.3"/>
<use href="#mVMT40" x="1214.8" y="1492.8"/>
<use href="#mVMT40" x="1233.5" y="1492.3"/>
<use href="#mVMT40" x="1252.1" y="1347.2"/>
<use href="#mVMT40" x="1270.8" y="1384.1"/>
<use href="#mVMT40" x="1289.4" y="1405.5"/>
<use href="#mVMT40" x="1308.1" y="1413.7"/>
<use href="#mVMT40" x="1326.8" y="1406.4"/>
<use href="#mVMT40" x="1345.4" y="1412.4"/>
<use href="#mVMT40" x="1364.1" y="1424.6"/>
<use href="#mVMT40" x="1382.7" y="1436.7"/>
<use href="#mVMT40" x="1401.4" y="1445.8"/>
<use href="#mVMT40" x="1420.1" y="1450.4"/>
<use href="#mVMT40" x="1438.7" y="1454.9"/>
<use href="#mVMT40" x="1457.4" y="1459.5"/>
<use href="#mVMT40" x="1476.0" y="1467.4"/>
<use href="#mVMT40" x="1494.7" y="1469.8"/>
<use href="#mVMT40" x="1513.4" y="1472.1"/>
<use href="#mVMT40" x="1532.0" y="1476.4"/>
<use href="#mVMT40" x="1550.7" y="1480.7"/>
<use href="#mVMT40" x="1569.3" y="1485.0"/>
<use href="#mVMT40" x="1588.0" y="1485.5"/>
<use href="#mVMT40" x="1606.7" y="1485.9"/>
<use href="#mVMT40" x="1625.3" y="1486.3"/>
<use href="#mVMT40" x="1644.0" y="1486.8"/>
<use href="#mVMT40" x="1662.6" y="1487.2"/>
<use href="#mVMT40" x="1681.3" y="1487.7"/>
<use href="#mVMT40" x="1699.9" y="1488.2"/>
<use href="#mVMT40" x="1718.6" y="1488.7"/>
<use href="#mVMT40" x="1737.3" y="1489.1"/>
<use href="#mVMT40" x="1755.9" y="1489.6"/>
<use href="#mVMT40" x="1774.6" y="1490.1"/>
<use href="#mVMT40" x="1793.2" y="1490.6"/>
<use href="#mVMT40" x="1811.9" y="1491.0"/>
<use href="#mVMT40" x="1830.6" y="1491.4"/>
<use href="#mVMT40" x="1849.2" y="1491.9"/>
<use href="#mVMT40" x="1867.9" y="1492.3"/>
<use href="#mVMT40" x="1886.5" y="1492.7"/>
<use href="#mVMT40" x="1905.2" y="1493.1"/>
<use href="#mVMT40" x="1923.9" y="1493.6"/>
<use href="#mVMT40" x="1942.5" y="1494.0"/>
<use href="#mVMT40" x="1961.2" y="1494.4"/>
<use href="#mVMT40" x="1979.8" y="1494.9"/>
<use href="#mVMT40" x="1998.5" y="1495.3"/>
<use href="#mVMT40" x="2017.2" y="1495.6"/>
<use href="#mVMT40" x="2035.8" y="1496.0"/>
<use href="#mVMT40" x="2054.5" y="1496.4"/>
<use href="#mVMT40" x="2073.1" y="1496.7"/>
<use href="#mVMT40" x="2091.8" y="1497.1"/>
<use href="#mVMT40" x="2110.4" y="1497.5"/>
<use href="#mVMT40" x="2129.1" y="1497.8"/>
<use href="#mVMT40" x="2147.8" y="1498.2"/>
<use href="#mVMT40" x="2166.4" y="1498.6"/>
<use href="#mVMT40" x="2185.1" y="1498.9"/>
<use href="#mVMT40" x="2203.7" y="1499.3"/>
<use href="#mVMT40" x="2222.4" y="1499.7"/>
</g>
<text transform="translate(310.5,1553.5) scale(0.838,1)" text-anchor="end" class="t" font-size="86">0</text>
<text transform="translate(310.5,1406.9) scale(0.838,1)" text-anchor="end" class="t" font-size="86">50</text>
<text transform="translate(310.5,1260.3) scale(0.838,1)" text-anchor="end" class="t" font-size="86">100</text>
<text transform="translate(310.5,1113.7) scale(0.838,1)" text-anchor="end" class="t" font-size="86">150</text>
<text transform="translate(310.5,967.1) scale(0.838,1)" text-anchor="end" class="t" font-size="86">200</text>
<text transform="translate(310.5,820.5) scale(0.838,1)" text-anchor="end" class="t" font-size="86">250</text>
<text transform="translate(310.5,673.9) scale(0.838,1)" text-anchor="end" class="t" font-size="86">300</text>
<text transform="translate(310.5,527.3) scale(0.838,1)" text-anchor="end" class="t" font-size="86">350</text>
<text transform="translate(310.5,380.7) scale(0.838,1)" text-anchor="end" class="t" font-size="86">400</text>
<text transform="translate(310.5,234.1) scale(0.838,1)" text-anchor="end" class="t" font-size="86">450</text>
<text transform="translate(310.5,87.5) scale(0.838,1)" text-anchor="end" class="t" font-size="86">500</text>
<text transform="translate(356.5,1779.2) scale(0.838,1)" text-anchor="middle" class="t" font-size="86">0</text>
<text transform="translate(729.7,1779.2) scale(0.838,1)" text-anchor="middle" class="t" font-size="86">100</text>
<text transform="translate(1102.9,1779.2) scale(0.838,1)" text-anchor="middle" class="t" font-size="86">200</text>
<text transform="translate(1476.0,1779.2) scale(0.838,1)" text-anchor="middle" class="t" font-size="86">300</text>
<text transform="translate(1849.2,1779.2) scale(0.838,1)" text-anchor="middle" class="t" font-size="86">400</text>
<text transform="translate(2222.4,1779.2) scale(0.838,1)" text-anchor="middle" class="t" font-size="86">500</text>
<text transform="translate(1289.5,1926.8) scale(0.838,1)" text-anchor="middle" class="t" font-size="101">Time (s)</text>
<text transform="translate(117.9,1566) rotate(-90) scale(0.83,1)" class="t" font-size="101.7" letter-spacing="7.7">Heat Release Rate (kW m</text>
<text transform="translate(83.6,405.4) rotate(-90) scale(0.915,1)" class="t" font-size="99">-</text>
<text transform="translate(83,373.1) rotate(-90) scale(0.819,1)" class="t" font-size="83">2</text>
<text transform="translate(117.9,325.9) rotate(-90) scale(0.76,1)" class="t" font-size="82.9">)</text>
<line transform="scale(0.876,1)" x1="1873.9" y1="140.5" x2="2004.0" y2="140.5" stroke="#777777" stroke-width="12.9" stroke-linecap="round"/>
<use href="#mPU" x="1698.4" y="140.5"/>
<text transform="translate(1770.5,161.6) scale(0.842,1)" class="t" font-size="61.6">PU</text>
<line transform="scale(0.876,1)" x1="1873.9" y1="215.9" x2="2004.0" y2="215.9" stroke="#FF3F3F" stroke-width="12.9" stroke-linecap="round"/>
<use href="#mEG10" x="1698.4" y="215.9"/>
<text transform="translate(1770.5,237.0) scale(0.842,1)" class="t" font-size="61.6">PU/EG10</text>
<line transform="scale(0.876,1)" x1="1873.9" y1="291.4" x2="2004.0" y2="291.4" stroke="#006DE2" stroke-width="12.9" stroke-linecap="round"/>
<use href="#mFG10" x="1698.4" y="291.4"/>
<text transform="translate(1770.5,312.5) scale(0.842,1)" class="t" font-size="61.6">PU/EG/ FG10</text>
<line transform="scale(0.876,1)" x1="1873.9" y1="366.9" x2="2004.0" y2="366.9" stroke="#00AE64" stroke-width="12.9" stroke-linecap="round"/>
<use href="#mVMT10" x="1698.4" y="366.9"/>
<text transform="translate(1770.5,388.0) scale(0.842,1)" class="t" font-size="61.6">PU/EG/VMT10</text>
<line transform="scale(0.876,1)" x1="1873.9" y1="442.3" x2="2004.0" y2="442.3" stroke="#C077E0" stroke-width="12.9" stroke-linecap="round"/>
<use href="#mFGVMT10" x="1698.4" y="442.3"/>
<text transform="translate(1770.5,463.4) scale(0.842,1)" class="t" font-size="61.6">PU/EG/FG/VMT10</text>
<line transform="scale(0.876,1)" x1="1873.9" y1="517.8" x2="2004.0" y2="517.8" stroke="#DD9A00" stroke-width="12.9" stroke-linecap="round"/>
<use href="#mEG20" x="1698.4" y="517.8"/>
<text transform="translate(1770.5,538.9) scale(0.842,1)" class="t" font-size="61.6">PU/EG20</text>
<line transform="scale(0.876,1)" x1="1873.9" y1="593.2" x2="2004.0" y2="593.2" stroke="#00CCCC" stroke-width="12.9" stroke-linecap="round"/>
<use href="#mFG20" x="1698.4" y="593.2"/>
<text transform="translate(1770.5,614.3) scale(0.842,1)" class="t" font-size="61.6">PU/EG/FG20</text>
<line transform="scale(0.876,1)" x1="1873.9" y1="668.6" x2="2004.0" y2="668.6" stroke="#8A4C4C" stroke-width="12.9" stroke-linecap="round"/>
<use href="#mVMT20" x="1698.4" y="668.6"/>
<text transform="translate(1770.5,689.8) scale(0.842,1)" class="t" font-size="61.6">PU/EG/VMT20</text>
<line transform="scale(0.876,1)" x1="1873.9" y1="744.1" x2="2004.0" y2="744.1" stroke="#8E8C00" stroke-width="12.9" stroke-linecap="round"/>
<use href="#mFGVMT20" x="1698.4" y="744.1"/>
<text transform="translate(1770.5,765.2) scale(0.842,1)" class="t" font-size="61.6">PU/EG/FG/VMT20</text>
<line transform="scale(0.876,1)" x1="1873.9" y1="819.6" x2="2004.0" y2="819.6" stroke="#FF6600" stroke-width="12.9" stroke-linecap="round"/>
<use href="#mEG40" x="1698.4" y="819.6"/>
<text transform="translate(1770.5,840.7) scale(0.842,1)" class="t" font-size="61.6">PU/EG40</text>
<line transform="scale(0.876,1)" x1="1873.9" y1="895.0" x2="2004.0" y2="895.0" stroke="#4299CF" stroke-width="12.9" stroke-linecap="round"/>
<use href="#mFGVMT40" x="1698.4" y="895.0"/>
<text transform="translate(1770.5,916.1) scale(0.842,1)" class="t" font-size="61.6">PU/EG/FG/VMT40</text>
<line transform="scale(0.876,1)" x1="1873.9" y1="970.5" x2="2004.0" y2="970.5" stroke="#33B600" stroke-width="12.9" stroke-linecap="round"/>
<use href="#mFG40" x="1698.4" y="970.5"/>
<text transform="translate(1770.5,991.6) scale(0.842,1)" class="t" font-size="61.6">PU/EG/FG40</text>
<line transform="scale(0.876,1)" x1="1873.9" y1="1045.9" x2="2004.0" y2="1045.9" stroke="#777777" stroke-width="12.9" stroke-linecap="round"/>
<use href="#mVMT40" x="1698.4" y="1045.9"/>
<text transform="translate(1770.5,1067.0) scale(0.842,1)" class="t" font-size="61.6">PU/EG/VMT40</text>
</svg>
</body></html>
